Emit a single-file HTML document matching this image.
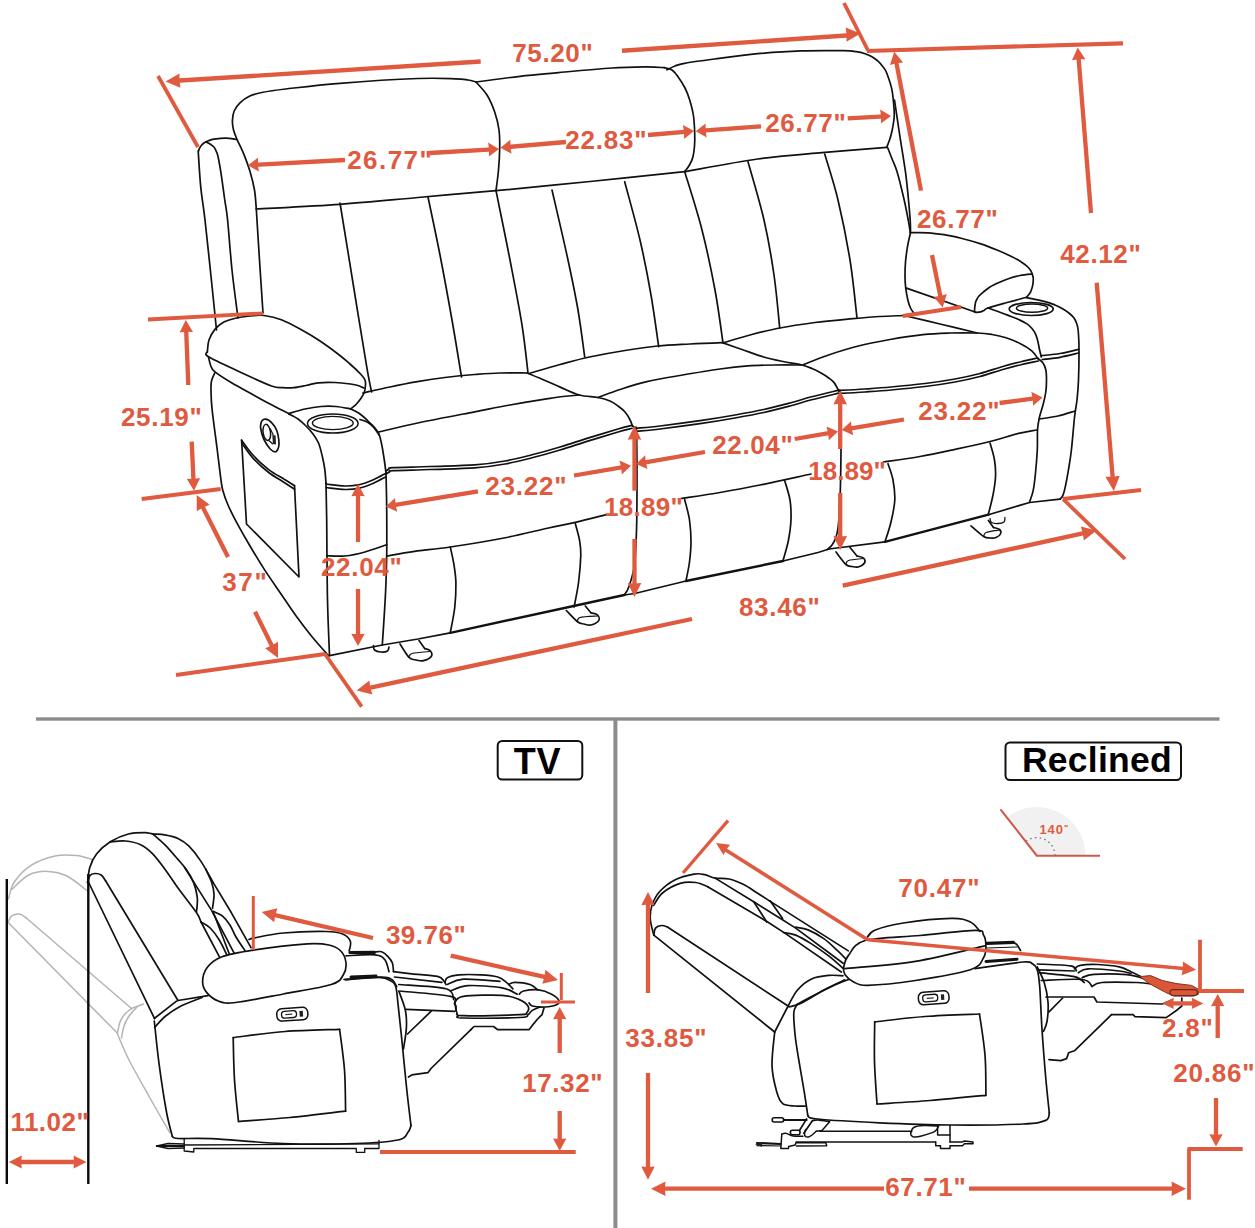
<!DOCTYPE html>
<html><head><meta charset="utf-8"><title>Sofa dimensions</title>
<style>
html,body{margin:0;padding:0;background:#fff;}
body{width:1255px;height:1228px;overflow:hidden;font-family:"Liberation Sans",sans-serif;}
svg{display:block;font-family:"Liberation Sans",sans-serif;}
</style></head><body>
<svg width="1255" height="1228" viewBox="0 0 1255 1228">
<rect width="1255" height="1228" fill="#fff"/>
<path d="M236.6,139.4 C234.8,139.2 229.7,138.2 225.9,138.2 C222.1,138.2 216.8,138.8 213.9,139.2 C211.0,139.6 210.1,140.2 208.5,140.8 C206.9,141.4 205.5,142.0 204.3,142.7 C203.1,143.4 202.3,144.3 201.5,145.2 C200.7,146.1 200.1,147.1 199.6,148.1 C199.1,149.1 198.8,150.0 198.6,151.0 C198.4,152.0 198.0,148.0 198.4,154.1 C198.8,160.2 199.7,176.6 200.8,187.6 C201.9,198.6 203.2,204.1 205.0,220.0 C206.8,235.9 209.8,264.7 211.7,283.0 C213.6,301.3 215.7,322.2 216.5,330.0" fill="none" stroke="#111" stroke-width="1.7" stroke-linecap="round" stroke-linejoin="round" />
<path d="M206.0,142.0 C206.7,142.3 208.7,143.2 210.0,144.0 C211.3,144.8 212.8,145.8 213.9,147.0 C215.0,148.2 215.6,149.9 216.3,151.5 C217.0,153.1 217.2,152.9 218.0,156.5 C218.8,160.1 219.9,166.0 221.0,173.2 C222.1,180.4 223.6,191.7 224.7,199.5 C225.8,207.3 226.4,208.2 227.6,220.0 C228.8,231.8 230.3,253.7 232.0,270.0 C233.7,286.3 237.0,310.0 238.0,318.0" fill="none" stroke="#111" stroke-width="1.7" stroke-linecap="round" stroke-linejoin="round" />
<path d="M256.3,209.0 C256.0,205.8 255.6,196.4 254.5,190.0 C253.4,183.6 251.6,176.8 249.8,170.8 C248.0,164.8 245.9,159.3 243.8,154.1 C241.7,148.9 238.9,143.8 237.2,139.8 C235.5,135.8 234.4,133.4 233.6,130.2 C232.8,127.0 232.3,123.8 232.4,120.6 C232.5,117.4 232.9,114.0 234.2,111.0 C235.5,108.0 237.6,105.2 240.2,102.7 C242.8,100.2 246.2,97.8 249.8,96.1 C253.4,94.4 255.7,93.7 261.7,92.5 C267.7,91.3 272.6,90.5 285.6,89.0 C298.7,87.5 317.9,85.0 340.0,83.3 C362.1,81.5 398.8,79.2 418.0,78.5 C437.2,77.8 446.7,78.5 455.0,78.8 C463.3,79.0 464.5,79.5 468.0,80.0 C471.5,80.5 474.7,81.7 476.0,82.0" fill="none" stroke="#111" stroke-width="1.7" stroke-linecap="round" stroke-linejoin="round" />
<path d="M476.0,82.0 C477.8,84.2 483.9,90.0 487.0,95.0 C490.1,100.0 492.7,106.2 494.7,112.0 C496.7,117.8 498.2,124.0 499.0,130.0 C499.8,136.0 499.8,141.3 499.7,148.0 C499.6,154.7 499.1,162.9 498.5,170.0 C497.9,177.1 496.4,187.2 496.0,190.7" fill="none" stroke="#111" stroke-width="1.7" stroke-linecap="round" stroke-linejoin="round" />
<path d="M256.3,209.0 C270.2,208.2 313.1,206.2 340.0,204.3 C366.9,202.4 392.0,199.8 418.0,197.5 C444.0,195.2 483.0,191.8 496.0,190.7" fill="none" stroke="#111" stroke-width="1.7" stroke-linecap="round" stroke-linejoin="round" />
<path d="M256.3,209.0 C256.8,217.5 258.4,242.7 259.5,260.0 C260.6,277.3 262.4,304.2 263.0,313.0" fill="none" stroke="#111" stroke-width="1.7" stroke-linecap="round" stroke-linejoin="round" />
<path d="M476.0,82.0 C483.3,81.0 506.2,77.9 520.0,76.3 C533.8,74.7 543.2,74.0 558.5,72.6 C573.8,71.2 597.1,69.0 612.0,68.0 C626.9,67.0 639.2,67.0 648.0,66.9 C656.8,66.9 661.9,67.6 664.7,67.7" fill="none" stroke="#111" stroke-width="1.7" stroke-linecap="round" stroke-linejoin="round" />
<path d="M664.7,67.7 C665.9,68.1 669.8,68.5 672.0,70.0 C674.2,71.5 675.8,73.7 678.0,76.7 C680.2,79.7 683.0,84.1 685.0,88.0 C687.0,91.9 688.3,95.3 689.7,100.0 C691.1,104.7 692.7,110.5 693.5,116.0 C694.3,121.5 694.5,128.0 694.7,133.0 C694.9,138.0 694.8,142.1 694.5,146.0 C694.2,149.9 693.8,153.5 693.0,156.7 C692.2,159.9 690.9,162.5 689.5,165.0 C688.1,167.5 685.5,170.6 684.7,171.7" fill="none" stroke="#111" stroke-width="1.7" stroke-linecap="round" stroke-linejoin="round" />
<path d="M496.0,190.7 C511.7,189.2 558.5,184.7 590.0,181.5 C621.5,178.3 668.9,173.3 684.7,171.7" fill="none" stroke="#111" stroke-width="1.7" stroke-linecap="round" stroke-linejoin="round" />
<path d="M667.0,69.8 C668.3,69.2 672.1,67.1 675.0,66.0 C677.9,64.9 677.8,64.5 684.4,63.3 C691.0,62.1 702.3,60.6 714.5,59.0 C726.7,57.4 743.2,55.1 757.6,53.7 C772.0,52.4 786.3,51.4 800.6,50.9 C814.9,50.4 834.4,50.6 843.6,50.7 C852.8,50.8 852.4,51.1 856.0,51.6 C859.6,52.1 862.4,52.8 865.1,53.7 C867.8,54.6 869.9,55.5 872.0,56.8 C874.1,58.0 876.2,59.6 878.0,61.2 C879.8,62.8 881.2,64.5 882.7,66.5 C884.2,68.5 885.2,69.0 886.7,73.0 C888.2,77.0 890.8,83.7 892.0,90.2 C893.2,96.7 893.9,106.5 894.2,111.8 C894.5,117.1 894.0,118.8 893.6,122.0 C893.2,125.2 892.6,128.1 892.0,131.0 C891.4,133.9 890.6,136.8 889.7,139.5 C888.8,142.2 887.2,146.0 886.7,147.3" fill="none" stroke="#111" stroke-width="1.7" stroke-linecap="round" stroke-linejoin="round" />
<path d="M684.7,171.7 C696.9,169.6 734.7,162.2 757.6,159.0 C780.5,155.8 800.5,154.5 822.0,152.6 C843.5,150.7 875.9,148.2 886.7,147.3" fill="none" stroke="#111" stroke-width="1.7" stroke-linecap="round" stroke-linejoin="round" />
<path d="M894.5,100.0 C895.4,105.7 897.8,122.4 899.6,134.4 C901.4,146.4 903.9,160.4 905.5,172.2 C907.1,184.0 908.2,197.0 909.0,205.3 C909.8,213.6 910.0,217.5 910.3,222.0 C910.5,226.5 910.5,230.8 910.5,232.5" fill="none" stroke="#111" stroke-width="1.7" stroke-linecap="round" stroke-linejoin="round" />
<path d="M887.7,147.7 C888.5,149.8 890.9,155.9 892.5,160.0 C894.1,164.1 895.2,165.4 897.2,172.2 C899.2,178.9 902.4,192.2 904.3,200.5 C906.2,208.8 907.6,216.7 908.6,222.0 C909.6,227.3 910.0,230.8 910.3,232.5" fill="none" stroke="#111" stroke-width="1.7" stroke-linecap="round" stroke-linejoin="round" />
<path d="M340.0,203.0 C342.2,216.3 348.6,255.7 353.0,283.0 C357.4,310.3 363.6,348.5 366.7,366.7 C369.8,384.9 370.8,387.8 371.6,392.0" fill="none" stroke="#111" stroke-width="1.7" stroke-linecap="round" stroke-linejoin="round" />
<path d="M428.0,197.0 C430.0,206.7 436.0,234.5 440.0,255.0 C444.0,275.5 448.4,299.7 452.0,320.0 C455.6,340.3 459.9,367.5 461.5,377.0" fill="none" stroke="#111" stroke-width="1.7" stroke-linecap="round" stroke-linejoin="round" />
<path d="M496.0,190.7 C498.3,202.2 505.7,237.6 510.0,260.0 C514.3,282.4 519.0,306.2 522.0,325.0 C525.0,343.8 527.0,365.0 528.0,373.0" fill="none" stroke="#111" stroke-width="1.7" stroke-linecap="round" stroke-linejoin="round" />
<path d="M552.0,190.0 C554.7,201.7 563.7,240.0 568.0,260.0 C572.3,280.0 575.2,293.8 578.0,310.0 C580.8,326.2 583.6,349.2 584.7,357.0" fill="none" stroke="#111" stroke-width="1.7" stroke-linecap="round" stroke-linejoin="round" />
<path d="M624.7,181.7 C627.2,191.4 635.6,221.1 640.0,240.0 C644.4,258.9 647.9,277.2 651.0,295.0 C654.1,312.8 657.4,338.1 658.7,346.7" fill="none" stroke="#111" stroke-width="1.7" stroke-linecap="round" stroke-linejoin="round" />
<path d="M684.7,171.7 C687.6,181.4 697.0,210.3 702.0,230.0 C707.0,249.7 711.5,271.2 715.0,290.0 C718.5,308.8 721.7,334.2 723.0,343.0" fill="none" stroke="#111" stroke-width="1.7" stroke-linecap="round" stroke-linejoin="round" />
<path d="M748.0,161.7 C750.7,171.4 759.7,201.1 764.0,220.0 C768.3,238.9 771.4,257.0 774.0,275.0 C776.6,293.0 778.8,319.2 779.7,328.0" fill="none" stroke="#111" stroke-width="1.7" stroke-linecap="round" stroke-linejoin="round" />
<path d="M824.7,154.0 C826.9,161.7 833.8,182.3 838.0,200.0 C842.2,217.7 846.8,240.3 850.0,260.0 C853.2,279.7 855.8,308.3 857.0,318.0" fill="none" stroke="#111" stroke-width="1.7" stroke-linecap="round" stroke-linejoin="round" />
<path d="M207.3,352.0 C207.6,350.0 207.8,343.7 209.0,340.0 C210.2,336.3 212.4,332.5 214.7,329.6 C217.0,326.7 219.7,324.4 223.0,322.5 C226.3,320.6 230.0,319.6 234.5,318.5 C239.0,317.4 245.1,316.5 250.0,316.0 C254.9,315.5 258.7,314.8 264.0,315.5 C269.3,316.2 275.8,317.6 282.0,320.0 C288.2,322.4 294.7,326.1 301.0,329.6 C307.3,333.1 313.8,336.9 320.0,341.0 C326.2,345.1 333.0,350.2 338.0,354.0 C343.0,357.8 346.2,360.7 350.0,364.0 C353.8,367.3 358.0,371.3 360.5,374.0 C363.0,376.7 364.2,377.9 365.0,380.0 C365.8,382.1 365.6,384.3 365.4,386.5 C365.2,388.7 364.8,390.9 364.0,393.0 C363.2,395.1 361.8,397.1 360.5,399.0 C359.2,400.9 357.6,402.8 356.0,404.5 C354.4,406.2 351.5,408.2 350.6,409.0" fill="none" stroke="#111" stroke-width="1.7" stroke-linecap="round" stroke-linejoin="round" />
<path d="M207.3,352.0 C207.5,352.8 203.1,353.5 208.5,356.8 C213.9,360.1 229.5,367.1 240.0,372.0 C250.5,376.9 264.3,383.4 271.5,386.0 C278.7,388.6 279.3,387.4 283.0,387.7 C286.7,388.0 290.0,388.1 293.8,387.7 C297.6,387.3 301.9,386.3 306.0,385.5 C310.1,384.7 313.7,383.3 318.5,382.8 C323.3,382.3 329.6,382.3 335.0,382.5 C340.4,382.7 346.8,383.5 350.6,384.0 C354.4,384.5 355.8,384.8 358.0,385.5 C360.2,386.2 363.0,387.6 364.0,388.0" fill="none" stroke="#111" stroke-width="1.7" stroke-linecap="round" stroke-linejoin="round" />
<path d="M208.5,356.8 C208.8,358.2 209.5,362.5 210.5,365.0 C211.5,367.5 211.1,368.6 214.7,371.6 C218.3,374.6 225.8,379.3 232.0,383.0 C238.2,386.7 245.5,390.5 251.8,394.0 C258.1,397.5 263.8,400.7 270.0,404.0 C276.2,407.3 285.7,412.0 288.8,413.6" fill="none" stroke="#111" stroke-width="1.7" stroke-linecap="round" stroke-linejoin="round" />
<path d="M288.8,413.6 C291.5,412.8 299.6,410.2 305.0,409.0 C310.4,407.8 315.8,406.9 321.0,406.5 C326.2,406.1 331.1,406.1 336.0,406.5 C340.9,406.9 348.2,408.5 350.6,408.9" fill="none" stroke="#111" stroke-width="1.7" stroke-linecap="round" stroke-linejoin="round" />
<path d="M350.6,409.0 C352.2,409.8 357.1,412.0 360.0,414.0 C362.9,416.0 365.7,418.8 368.0,421.0 C370.3,423.2 372.2,424.8 374.0,427.0 C375.8,429.2 377.7,430.8 379.0,434.0 C380.3,437.2 381.2,442.0 382.0,446.0 C382.8,450.0 383.3,453.5 384.0,458.0 C384.7,462.5 385.7,470.5 386.0,473.0" fill="none" stroke="#111" stroke-width="1.7" stroke-linecap="round" stroke-linejoin="round" />
<path d="M288.8,414.0 C290.3,414.8 295.1,417.0 298.0,419.0 C300.9,421.0 303.5,423.5 306.0,426.0 C308.5,428.5 310.9,431.2 313.0,434.0 C315.1,436.8 317.0,439.5 318.5,443.0 C320.0,446.5 321.0,450.8 322.0,455.0 C323.0,459.2 323.9,463.3 324.6,468.0 C325.3,472.7 325.8,480.5 326.0,483.0" fill="none" stroke="#111" stroke-width="1.7" stroke-linecap="round" stroke-linejoin="round" />
<ellipse cx="332.8" cy="423.5" rx="25.3" ry="9.6" fill="none" stroke="#111" stroke-width="1.5"/>
<ellipse cx="332.8" cy="423" rx="20.4" ry="6.6" fill="none" stroke="#111" stroke-width="1.4"/>
<path d="M214.7,373.0 C214.2,374.3 212.1,378.2 211.5,381.0 C210.9,383.8 210.9,385.4 211.0,390.0 C211.1,394.6 211.0,399.0 212.0,408.7 C213.0,418.4 215.5,436.1 217.0,448.0 C218.5,459.9 220.0,472.9 221.0,480.0 C222.0,487.1 221.7,486.5 222.9,490.7 C224.1,494.9 225.6,499.5 228.0,505.0 C230.4,510.5 233.7,517.1 237.4,523.9 C241.1,530.7 245.5,538.4 250.0,546.0 C254.5,553.6 259.3,561.6 264.3,569.4 C269.3,577.1 274.8,584.9 280.0,592.5 C285.2,600.1 290.2,607.8 295.4,615.0 C300.6,622.2 305.5,628.7 311.0,635.5 C316.5,642.3 325.6,652.3 328.5,655.7" fill="none" stroke="#111" stroke-width="1.7" stroke-linecap="round" stroke-linejoin="round" />
<path d="M326.0,483.0 C326.1,489.2 326.4,500.5 326.7,520.0 C326.9,539.5 327.0,577.4 327.5,600.0 C328.0,622.6 329.2,646.4 329.5,655.7" fill="none" stroke="#111" stroke-width="1.7" stroke-linecap="round" stroke-linejoin="round" />
<path d="M386.0,473.0 C386.1,479.0 386.6,495.2 386.7,509.0 C386.8,522.8 386.9,542.2 386.7,556.0 C386.5,569.8 386.3,576.8 385.6,591.6 C384.9,606.4 382.9,636.1 382.3,645.0" fill="none" stroke="#111" stroke-width="1.7" stroke-linecap="round" stroke-linejoin="round" />
<path d="M326.0,484.0 C329.2,484.3 339.3,485.9 345.0,486.0 C350.7,486.1 355.2,485.6 360.0,484.5 C364.8,483.4 369.8,481.3 374.0,479.5 C378.2,477.7 383.6,474.5 385.5,473.5" fill="none" stroke="#111" stroke-width="1.7" stroke-linecap="round" stroke-linejoin="round" />
<path d="M326.0,487.5 C329.2,487.8 339.3,489.4 345.0,489.5 C350.7,489.6 355.2,489.1 360.0,488.0 C364.8,486.9 369.8,484.8 374.0,483.0 C378.2,481.2 383.6,478.0 385.5,477.0" fill="none" stroke="#111" stroke-width="1.7" stroke-linecap="round" stroke-linejoin="round" />
<path d="M326.7,555.7 C329.8,555.8 338.6,556.6 345.0,556.0 C351.4,555.4 358.1,553.9 365.0,552.0 C371.9,550.1 383.1,545.9 386.7,544.7" fill="none" stroke="#111" stroke-width="1.7" stroke-linecap="round" stroke-linejoin="round" />
<path d="M329.5,655.7 L382.3,645.0" fill="none" stroke="#111" stroke-width="1.7" stroke-linecap="round" stroke-linejoin="round"/>
<path d="M241.6,440.2 C243.5,442.7 248.7,450.4 253.2,455.3 C257.7,460.2 263.5,465.6 268.7,469.6 C273.9,473.6 279.9,476.6 284.2,479.3 C288.5,482.0 292.8,484.6 294.5,485.7" fill="none" stroke="#111" stroke-width="1.7" stroke-linecap="round" stroke-linejoin="round" />
<path d="M294.5,485.7 L299.0,577.0 L246.5,524.0 L241.6,440.2" fill="none" stroke="#111" stroke-width="1.7" stroke-linecap="round" stroke-linejoin="round"/>
<path d="M241.8,443.2 C243.7,445.7 248.7,453.5 253.2,458.4 C257.7,463.3 263.5,468.5 268.7,472.5 C273.9,476.5 279.9,479.7 284.2,482.5 C288.5,485.3 292.9,488.1 294.6,489.2" fill="none" stroke="#111" stroke-width="1.7" stroke-linecap="round" stroke-linejoin="round" />
<path d="M264,419.3 C260.5,420.5 260,426 261,430 C262,436 265,443 270.2,449 C272.5,451.3 275,452.2 276.4,451.4 C278.6,449 279.3,444 278.8,439.8 C278.3,434 276,427 271.8,422.8 C269.5,420.3 266.5,418.6 264,419.3 Z" fill="none" stroke="#111" stroke-width="1.7"/>
<ellipse cx="266.8" cy="432.4" rx="3.7" ry="8.1" transform="rotate(-8 266.8 432.4)" fill="none" stroke="#111" stroke-width="1.5"/>
<path d="M272.3,435 L275.6,435.6 L276,444.6 L272.9,444 Z" fill="#222"/>
<path d="M270.3,428.8 L273.2,434.8" fill="none" stroke="#111" stroke-width="1.2" stroke-linecap="round" stroke-linejoin="round"/>
<path d="M268.6,440.3 L272.5,443.8" fill="none" stroke="#111" stroke-width="1.2" stroke-linecap="round" stroke-linejoin="round"/>
<path d="M373.5,645.5 C373.7,646.2 373.2,648.9 374.5,650.0 C375.8,651.1 378.8,651.8 381.0,652.0 C383.2,652.2 386.2,651.8 387.5,651.0 C388.8,650.2 388.8,647.7 389.0,647.0" fill="none" stroke="#111" stroke-width="1.7" stroke-linecap="round" stroke-linejoin="round" />
<path d="M400.0,644.0 C401.5,646.2 406.3,654.7 409.0,657.4 C411.7,660.1 413.6,659.5 416.0,660.0 C418.4,660.5 420.9,661.3 423.5,660.7 C426.1,660.1 430.3,658.0 431.4,656.3 C432.5,654.6 431.3,652.0 430.2,650.7 C429.1,649.4 425.6,648.9 424.7,648.5" fill="none" stroke="#111" stroke-width="1.7" stroke-linecap="round" stroke-linejoin="round" />
<path d="M424.7,648.5 L419.0,640.6" fill="none" stroke="#111" stroke-width="1.7" stroke-linecap="round" stroke-linejoin="round"/>
<path d="M409.0,657.4 C409.5,656.8 408.5,654.5 412.0,653.5 C415.5,652.5 427.0,651.8 430.0,651.5" fill="none" stroke="#111" stroke-width="1.2" stroke-linecap="round" stroke-linejoin="round" />
<path d="M362.9,393.0 C367.4,392.0 380.9,388.9 390.0,387.0 C399.1,385.1 408.2,383.3 417.4,381.7 C426.6,380.1 435.4,378.7 445.0,377.5 C454.6,376.3 465.5,375.2 474.7,374.5 C483.9,373.8 491.3,373.2 500.0,373.0 C508.7,372.8 522.5,373.0 527.0,373.0" fill="none" stroke="#111" stroke-width="1.7" stroke-linecap="round" stroke-linejoin="round" />
<path d="M527.0,373.0 C530.0,374.2 539.4,378.1 545.0,380.5 C550.6,382.9 555.1,385.0 560.8,387.4 C566.5,389.8 573.2,393.3 579.4,395.0 C585.6,396.7 592.9,396.5 598.0,397.5 C603.1,398.5 606.7,399.6 610.0,401.0 C613.3,402.4 615.5,404.2 618.0,406.0 C620.5,407.8 623.1,409.8 625.0,412.0 C626.9,414.2 628.4,416.7 629.6,419.0 C630.9,421.3 632.0,424.8 632.5,426.0" fill="none" stroke="#111" stroke-width="1.7" stroke-linecap="round" stroke-linejoin="round" />
<path d="M378.6,432.0 C385.5,430.4 404.0,425.9 420.0,422.5 C436.0,419.1 459.7,414.7 474.7,411.8 C489.7,408.9 498.0,407.1 510.0,405.0 C522.0,402.9 537.7,400.3 546.5,398.9 C555.3,397.5 557.5,397.1 563.0,396.5 C568.5,395.9 576.7,395.2 579.4,395.0" fill="none" stroke="#111" stroke-width="1.7" stroke-linecap="round" stroke-linejoin="round" />
<path d="M360.0,419.5 C361.3,420.0 365.7,421.1 368.0,422.5 C370.3,423.9 372.2,425.5 374.0,427.6 C375.8,429.7 378.2,433.8 379.0,435.0" fill="none" stroke="#111" stroke-width="1.7" stroke-linecap="round" stroke-linejoin="round" />
<path d="M386.0,471.0 C386.5,470.7 387.8,469.6 389.0,469.0 C390.2,468.4 386.2,468.1 393.0,467.7 C399.8,467.3 416.4,467.0 430.0,466.5 C443.6,466.0 462.2,465.8 474.7,464.9 C487.2,464.0 495.4,462.7 505.0,461.0 C514.5,459.3 522.8,457.1 532.0,454.8 C541.2,452.5 550.4,449.9 560.0,447.0 C569.6,444.1 579.8,440.6 589.5,437.6 C599.2,434.6 610.9,431.1 618.0,429.0 C625.1,426.9 629.7,425.9 632.0,425.3" fill="none" stroke="#111" stroke-width="1.7" stroke-linecap="round" stroke-linejoin="round" />
<path d="M386.0,474.0 C386.6,473.7 388.3,472.6 389.5,472.0 C390.7,471.4 386.2,471.1 393.0,470.7 C399.8,470.3 416.4,470.0 430.0,469.5 C443.6,469.0 462.2,468.8 474.7,467.9 C487.2,467.0 495.4,465.7 505.0,464.0 C514.5,462.3 522.8,460.1 532.0,457.8 C541.2,455.5 550.4,452.9 560.0,450.0 C569.6,447.1 579.8,443.6 589.5,440.6 C599.2,437.6 610.9,434.1 618.0,432.0 C625.1,429.9 629.7,428.9 632.0,428.3" fill="none" stroke="#111" stroke-width="1.7" stroke-linecap="round" stroke-linejoin="round" />
<path d="M386.7,556.0 C391.4,555.2 404.0,552.9 414.6,551.4 C425.2,549.9 435.4,549.2 450.3,547.0 C465.2,544.8 487.5,541.2 503.9,538.0 C520.3,534.8 536.6,530.6 548.5,528.0 C560.4,525.4 565.6,524.6 575.3,522.4 C585.0,520.2 601.3,515.9 606.5,514.6" fill="none" stroke="#111" stroke-width="1.7" stroke-linecap="round" stroke-linejoin="round" />
<path d="M450.3,547.0 C450.9,550.0 453.1,559.0 454.0,565.0 C454.9,571.0 455.8,576.0 455.9,583.0 C456.0,590.0 455.7,598.8 454.8,607.0 C453.9,615.2 451.1,628.2 450.3,632.5" fill="none" stroke="#111" stroke-width="1.7" stroke-linecap="round" stroke-linejoin="round" />
<path d="M575.3,523.5 C576.0,526.2 578.6,534.8 579.5,540.0 C580.4,545.2 580.9,548.0 580.8,555.0 C580.6,562.0 579.7,573.3 578.6,582.0 C577.5,590.7 574.9,602.8 574.1,607.0" fill="none" stroke="#111" stroke-width="1.7" stroke-linecap="round" stroke-linejoin="round" />
<path d="M382.3,645.0 L418.0,639.0 L450.3,632.8" fill="none" stroke="#111" stroke-width="1.7" stroke-linecap="round" stroke-linejoin="round"/>
<path d="M450.3,632.8 L624.3,595.0" fill="none" stroke="#111" stroke-width="2.4" stroke-linecap="round" stroke-linejoin="round"/>
<path d="M632.5,426.0 C632.9,426.3 634.3,427.0 635.0,428.0 C635.7,429.0 636.2,423.3 636.5,432.0 C636.8,440.7 637.0,464.2 637.0,480.0 C637.0,495.8 637.0,512.8 636.6,527.0 C636.2,541.2 635.7,555.0 634.4,565.0 C633.1,575.0 630.5,582.0 628.8,587.0 C627.1,592.0 625.0,593.7 624.3,595.0" fill="none" stroke="#111" stroke-width="1.7" stroke-linecap="round" stroke-linejoin="round" />
<path d="M566.3,610.5 C568.2,612.4 574.5,619.5 577.5,621.7 C580.5,624.0 581.8,623.5 584.0,624.0 C586.2,624.5 588.4,625.6 590.9,625.0 C593.4,624.4 597.6,622.3 598.7,620.6 C599.8,618.9 598.9,616.3 597.6,615.0 C596.3,613.7 592.0,613.2 590.9,612.8" fill="none" stroke="#111" stroke-width="1.7" stroke-linecap="round" stroke-linejoin="round" />
<path d="M590.9,612.8 L585.3,606.0" fill="none" stroke="#111" stroke-width="1.7" stroke-linecap="round" stroke-linejoin="round"/>
<path d="M577.5,621.7 C577.9,621.0 576.7,618.5 580.0,617.5 C583.3,616.5 594.6,616.2 597.5,616.0" fill="none" stroke="#111" stroke-width="1.2" stroke-linecap="round" stroke-linejoin="round" />
<path d="M529.0,373.5 C534.2,372.0 549.9,367.2 560.0,364.5 C570.1,361.8 578.7,359.3 589.5,357.0 C600.3,354.7 613.6,352.3 625.0,350.5 C636.4,348.7 647.2,347.1 658.0,346.0 C668.8,344.9 679.3,344.6 690.0,344.0 C700.7,343.4 716.9,342.8 722.3,342.6" fill="none" stroke="#111" stroke-width="1.7" stroke-linecap="round" stroke-linejoin="round" />
<path d="M722.3,342.6 C725.6,343.8 735.1,347.1 742.0,349.5 C748.9,351.9 756.9,355.0 763.7,357.0 C770.5,359.0 776.6,360.2 783.0,361.5 C789.4,362.8 797.2,363.8 802.0,365.0 C806.8,366.2 808.8,367.2 812.0,368.5 C815.2,369.8 818.3,371.5 821.0,373.0 C823.7,374.5 825.9,375.9 828.0,377.5 C830.1,379.1 832.1,380.2 833.9,382.4 C835.7,384.5 837.8,389.1 838.6,390.4" fill="none" stroke="#111" stroke-width="1.7" stroke-linecap="round" stroke-linejoin="round" />
<path d="M598.0,397.5 C601.7,396.2 611.9,392.1 620.0,389.5 C628.1,386.9 636.8,384.0 646.8,381.7 C656.8,379.4 667.8,377.6 680.0,375.5 C692.2,373.4 708.7,370.6 720.0,369.0 C731.3,367.4 738.6,366.6 747.8,365.9 C757.0,365.2 766.0,365.1 775.0,365.0 C784.0,364.9 797.5,365.0 802.0,365.0" fill="none" stroke="#111" stroke-width="1.7" stroke-linecap="round" stroke-linejoin="round" />
<path d="M636.0,428.3 C640.0,427.9 649.3,427.3 660.0,426.0 C670.7,424.7 687.5,422.5 700.0,420.7 C712.5,418.9 724.4,416.9 735.0,415.0 C745.6,413.1 754.5,411.5 763.7,409.5 C772.9,407.5 782.0,405.1 790.0,403.0 C798.0,400.9 803.5,398.9 811.6,396.8 C819.7,394.7 834.1,391.3 838.6,390.2" fill="none" stroke="#111" stroke-width="1.7" stroke-linecap="round" stroke-linejoin="round" />
<path d="M636.5,431.3 C640.4,430.9 649.4,430.3 660.0,429.0 C670.6,427.7 687.5,425.5 700.0,423.7 C712.5,421.9 724.4,419.9 735.0,418.0 C745.6,416.1 754.5,414.5 763.7,412.5 C772.9,410.5 782.0,408.1 790.0,406.0 C798.0,403.9 803.5,401.9 811.6,399.8 C819.7,397.7 834.1,394.3 838.6,393.2" fill="none" stroke="#111" stroke-width="1.7" stroke-linecap="round" stroke-linejoin="round" />
<path d="M681.0,498.5 C687.5,497.5 706.8,494.8 720.0,492.5 C733.2,490.2 744.8,488.1 760.0,485.0 C775.2,481.9 802.5,475.8 811.0,474.0" fill="none" stroke="#111" stroke-width="1.7" stroke-linecap="round" stroke-linejoin="round" />
<path d="M684.7,499.7 C685.5,503.1 688.5,513.0 689.5,520.0 C690.5,527.0 691.0,535.0 691.0,542.0 C691.0,549.0 690.3,555.5 689.5,562.0 C688.7,568.5 686.6,577.6 686.0,580.7" fill="none" stroke="#111" stroke-width="1.7" stroke-linecap="round" stroke-linejoin="round" />
<path d="M784.7,480.7 C785.6,483.9 789.0,493.6 790.0,500.0 C791.0,506.4 791.2,512.3 791.0,519.0 C790.8,525.7 789.8,533.0 788.5,540.0 C787.2,547.0 783.9,557.2 783.0,560.7" fill="none" stroke="#111" stroke-width="1.7" stroke-linecap="round" stroke-linejoin="round" />
<path d="M624.3,595.0 L634.7,593.5 L686.0,581.0" fill="none" stroke="#111" stroke-width="1.7" stroke-linecap="round" stroke-linejoin="round"/>
<path d="M686.0,581.0 L783.0,561.0" fill="none" stroke="#111" stroke-width="2.4" stroke-linecap="round" stroke-linejoin="round"/>
<path d="M783.0,561.0 L818.0,552.5 L829.0,549.0" fill="none" stroke="#111" stroke-width="1.7" stroke-linecap="round" stroke-linejoin="round"/>
<path d="M838.6,391.0 C838.9,391.8 840.1,386.3 840.5,396.0 C840.9,405.7 841.1,431.7 841.0,449.0 C840.9,466.3 840.5,486.8 840.0,500.0 C839.5,513.2 838.8,521.6 838.0,528.0 C837.2,534.4 836.5,535.8 835.5,538.6 C834.5,541.4 833.3,543.2 832.0,545.0 C830.7,546.8 828.2,548.8 827.5,549.5" fill="none" stroke="#111" stroke-width="1.7" stroke-linecap="round" stroke-linejoin="round" />
<path d="M724.0,342.6 C728.3,341.3 740.7,337.4 750.0,335.0 C759.3,332.6 768.9,330.1 779.7,328.0 C790.5,325.9 802.8,324.1 815.0,322.5 C827.2,320.9 842.2,319.7 853.0,318.7 C863.8,317.7 871.5,317.0 880.0,316.5 C888.5,316.0 900.0,315.7 904.0,315.5" fill="none" stroke="#111" stroke-width="1.7" stroke-linecap="round" stroke-linejoin="round" />
<path d="M904.0,315.5 C910.0,316.9 927.8,321.1 940.0,324.0 C952.2,326.9 971.1,331.5 977.3,333.0" fill="none" stroke="#111" stroke-width="1.7" stroke-linecap="round" stroke-linejoin="round" />
<path d="M803.6,364.5 C808.0,362.8 820.7,357.6 830.0,354.5 C839.3,351.4 849.4,348.3 859.4,345.8 C869.4,343.3 879.4,341.4 890.0,339.5 C900.6,337.6 913.0,335.7 923.0,334.6 C933.0,333.5 941.0,333.3 950.0,333.0 C959.0,332.7 970.3,332.8 977.3,333.0 C984.3,333.2 987.2,333.7 992.0,334.5 C996.8,335.3 1001.3,336.3 1006.0,337.8 C1010.7,339.3 1015.8,341.4 1020.0,343.5 C1024.2,345.6 1028.5,348.1 1031.5,350.6 C1034.5,353.1 1036.8,357.2 1037.8,358.5" fill="none" stroke="#111" stroke-width="1.7" stroke-linecap="round" stroke-linejoin="round" />
<path d="M840.0,390.4 C844.2,390.2 856.5,389.6 865.0,389.0 C873.5,388.4 881.0,387.9 891.0,387.0 C901.0,386.1 914.3,384.8 925.0,383.5 C935.7,382.2 945.8,380.7 955.0,379.0 C964.2,377.3 972.0,375.6 980.0,373.5 C988.0,371.4 995.8,368.5 1002.8,366.5 C1009.8,364.5 1016.2,362.9 1022.0,361.5 C1027.8,360.1 1035.2,358.6 1037.8,358.0" fill="none" stroke="#111" stroke-width="1.7" stroke-linecap="round" stroke-linejoin="round" />
<path d="M840.5,393.4 C844.6,393.2 856.6,392.6 865.0,392.0 C873.4,391.4 881.0,390.9 891.0,390.0 C901.0,389.1 914.3,387.8 925.0,386.5 C935.7,385.2 945.8,383.7 955.0,382.0 C964.2,380.3 972.0,378.6 980.0,376.5 C988.0,374.4 995.8,371.5 1002.8,369.5 C1009.8,367.5 1016.0,365.9 1022.0,364.5 C1028.0,363.1 1035.8,361.6 1038.5,361.0" fill="none" stroke="#111" stroke-width="1.7" stroke-linecap="round" stroke-linejoin="round" />
<path d="M1037.8,358.5 C1038.7,359.2 1041.7,361.1 1043.0,363.0 C1044.3,364.9 1045.2,366.9 1045.8,369.7 C1046.4,372.5 1046.5,376.3 1046.5,380.0 C1046.5,383.7 1046.4,387.8 1045.8,392.0 C1045.2,396.2 1044.1,400.8 1043.0,405.0 C1041.9,409.2 1040.3,413.3 1039.4,417.5 C1038.5,421.7 1037.8,424.6 1037.5,430.0 C1037.2,435.4 1037.7,442.5 1037.3,450.0 C1036.9,457.5 1036.0,468.1 1035.3,475.0 C1034.6,481.9 1034.0,486.9 1033.0,491.4 C1032.0,495.9 1030.1,500.2 1029.5,502.0" fill="none" stroke="#111" stroke-width="1.7" stroke-linecap="round" stroke-linejoin="round" />
<path d="M883.3,462.0 C889.4,461.1 908.0,458.6 920.0,456.5 C932.0,454.4 943.3,451.9 955.0,449.4 C966.7,446.9 979.4,444.2 990.0,441.5 C1000.6,438.8 1011.0,435.3 1018.7,433.4 C1026.5,431.5 1033.5,430.6 1036.5,430.0" fill="none" stroke="#111" stroke-width="1.7" stroke-linecap="round" stroke-linejoin="round" />
<path d="M888.0,463.7 C888.8,466.4 891.9,473.9 893.0,480.0 C894.1,486.1 895.1,493.0 894.8,500.0 C894.5,507.0 892.6,515.0 891.0,522.0 C889.4,529.0 886.0,538.5 885.0,541.8" fill="none" stroke="#111" stroke-width="1.7" stroke-linecap="round" stroke-linejoin="round" />
<path d="M990.0,443.0 C990.8,445.8 993.6,454.3 994.5,460.0 C995.4,465.7 995.8,471.2 995.5,477.0 C995.2,482.8 994.2,488.8 993.0,495.0 C991.8,501.2 989.2,510.8 988.4,514.0" fill="none" stroke="#111" stroke-width="1.7" stroke-linecap="round" stroke-linejoin="round" />
<path d="M829.0,549.0 L884.9,541.8" fill="none" stroke="#111" stroke-width="1.7" stroke-linecap="round" stroke-linejoin="round"/>
<path d="M884.9,541.8 L988.4,514.7" fill="none" stroke="#111" stroke-width="2.4" stroke-linecap="round" stroke-linejoin="round"/>
<path d="M988.4,514.7 L1029.5,502.5" fill="none" stroke="#111" stroke-width="1.7" stroke-linecap="round" stroke-linejoin="round"/>
<path d="M836.0,552.0 C837.7,554.1 843.3,562.1 846.0,564.5 C848.7,566.9 850.0,566.1 852.0,566.5 C854.0,566.9 855.9,567.6 858.0,567.0 C860.1,566.4 863.6,564.5 864.5,563.0 C865.4,561.5 864.8,559.2 863.5,558.0 C862.2,556.8 858.1,556.3 857.0,556.0" fill="none" stroke="#111" stroke-width="1.7" stroke-linecap="round" stroke-linejoin="round" />
<path d="M857.0,556.0 L850.0,547.5" fill="none" stroke="#111" stroke-width="1.7" stroke-linecap="round" stroke-linejoin="round"/>
<path d="M846.0,564.5 C846.4,563.8 845.6,561.5 848.5,560.5 C851.4,559.5 861.0,558.8 863.5,558.5" fill="none" stroke="#111" stroke-width="1.2" stroke-linecap="round" stroke-linejoin="round" />
<path d="M971.0,525.9 C973.1,527.7 980.5,534.5 983.7,536.5 C986.9,538.5 988.0,537.8 990.0,538.0 C992.0,538.2 994.2,538.2 996.0,537.5 C997.8,536.8 999.9,535.3 1000.5,534.0 C1001.1,532.7 1000.8,530.6 999.6,529.5 C998.4,528.4 994.5,527.8 993.5,527.5" fill="none" stroke="#111" stroke-width="1.7" stroke-linecap="round" stroke-linejoin="round" />
<path d="M993.5,527.5 L988.4,520.5" fill="none" stroke="#111" stroke-width="1.7" stroke-linecap="round" stroke-linejoin="round"/>
<path d="M983.7,536.5 C984.1,535.8 983.4,533.6 986.0,532.5 C988.6,531.4 997.2,530.4 999.5,530.0" fill="none" stroke="#111" stroke-width="1.2" stroke-linecap="round" stroke-linejoin="round" />
<path d="M990.0,518.5 C990.2,519.2 990.2,521.7 991.5,522.5 C992.8,523.3 995.9,523.6 998.0,523.5 C1000.1,523.4 1002.8,523.0 1004.0,522.0 C1005.2,521.0 1004.8,518.2 1005.0,517.5" fill="none" stroke="#111" stroke-width="1.3" stroke-linecap="round" stroke-linejoin="round" />
<path d="M910.5,232.7 C913.4,232.7 922.4,232.5 928.0,232.8 C933.6,233.1 938.3,233.8 944.0,234.7 C949.7,235.6 955.9,237.0 962.0,238.5 C968.1,240.0 975.0,242.0 980.8,243.9 C986.6,245.8 991.8,247.9 997.0,250.0 C1002.2,252.1 1008.1,254.8 1012.0,256.7 C1015.9,258.6 1018.1,260.0 1020.5,261.5 C1022.9,263.0 1025.0,264.6 1026.6,265.9 C1028.2,267.2 1029.1,268.3 1030.0,269.5 C1030.9,270.7 1031.5,271.8 1032.0,273.2 C1032.5,274.6 1033.0,276.3 1033.2,278.0 C1033.4,279.7 1033.2,281.6 1033.0,283.3 C1032.8,285.0 1032.5,286.5 1032.0,288.0 C1031.5,289.5 1031.2,290.9 1030.3,292.5 C1029.4,294.1 1027.2,296.5 1026.6,297.3" fill="none" stroke="#111" stroke-width="1.7" stroke-linecap="round" stroke-linejoin="round" />
<path d="M1032.0,274.0 C1030.0,274.2 1024.0,274.7 1020.0,275.5 C1016.0,276.3 1011.8,277.5 1008.3,278.7 C1004.8,279.9 1002.0,281.1 999.0,282.5 C996.0,283.9 992.5,285.5 990.0,287.0 C987.5,288.5 985.8,290.0 984.0,291.5 C982.2,293.0 980.2,294.6 979.0,296.0 C977.8,297.4 977.1,298.8 976.5,300.0 C975.9,301.2 975.6,301.6 975.3,303.5 C974.9,305.4 974.5,310.3 974.4,311.7" fill="none" stroke="#111" stroke-width="1.7" stroke-linecap="round" stroke-linejoin="round" />
<path d="M910.5,232.7 C910.0,235.0 908.3,241.7 907.5,246.6 C906.7,251.5 905.9,257.1 905.5,262.0 C905.1,266.9 905.0,271.7 905.0,276.0 C905.0,280.3 905.2,283.9 905.7,287.9 C906.2,291.8 907.0,296.3 907.8,299.7 C908.6,303.1 909.3,305.5 910.5,308.0 C911.7,310.5 914.1,313.4 914.8,314.5" fill="none" stroke="#111" stroke-width="1.7" stroke-linecap="round" stroke-linejoin="round" />
<path d="M905.7,287.9 L974.4,311.7" fill="none" stroke="#111" stroke-width="1.7" stroke-linecap="round" stroke-linejoin="round"/>
<path d="M1026.6,297.3 C1023.3,298.2 1013.4,300.7 1007.0,302.5 C1000.6,304.3 991.8,306.7 988.0,308.0 C984.2,309.3 985.2,309.9 984.0,310.5 C982.8,311.1 982.0,311.6 980.8,311.9 C979.6,312.2 978.1,312.3 977.0,312.3 C975.9,312.3 974.8,311.8 974.4,311.7" fill="none" stroke="#111" stroke-width="1.7" stroke-linecap="round" stroke-linejoin="round" />
<path d="M1026.6,297.6 C1029.7,298.3 1040.3,300.4 1045.0,301.6 C1049.7,302.8 1052.0,303.8 1055.0,305.0 C1058.0,306.2 1060.6,307.6 1063.0,309.0 C1065.4,310.4 1067.7,312.0 1069.5,313.5 C1071.3,315.0 1072.8,316.4 1074.0,318.0 C1075.2,319.6 1075.8,321.2 1076.5,323.0 C1077.2,324.8 1077.6,326.2 1078.0,329.0 C1078.4,331.8 1078.6,335.9 1078.8,340.0 C1079.0,344.1 1079.0,347.0 1079.0,353.7 C1079.0,360.4 1078.8,372.3 1078.5,380.0 C1078.2,387.7 1077.7,393.8 1077.0,400.0 C1076.3,406.2 1075.4,409.2 1074.5,417.5 C1073.6,425.8 1072.4,441.1 1071.4,450.0 C1070.4,458.9 1069.4,464.1 1068.3,470.7 C1067.2,477.3 1065.7,485.2 1064.7,489.4 C1063.8,493.6 1063.4,494.4 1062.6,496.0 C1061.8,497.6 1060.4,498.7 1060.0,499.2" fill="none" stroke="#111" stroke-width="1.7" stroke-linecap="round" stroke-linejoin="round" />
<path d="M988.0,308.0 C989.7,308.6 994.6,310.3 998.0,311.5 C1001.4,312.7 1005.0,314.1 1008.3,315.4 C1011.6,316.7 1015.0,317.9 1018.0,319.3 C1021.0,320.7 1024.3,322.1 1026.6,323.6 C1028.9,325.1 1030.5,326.7 1032.0,328.5 C1033.5,330.3 1034.8,332.4 1035.8,334.6 C1036.8,336.9 1037.4,339.6 1038.0,342.0 C1038.6,344.4 1038.9,346.8 1039.4,349.3 C1040.0,351.8 1041.0,355.7 1041.3,357.0" fill="none" stroke="#111" stroke-width="1.7" stroke-linecap="round" stroke-linejoin="round" />
<ellipse cx="1031.2" cy="309" rx="22" ry="6.5" fill="none" stroke="#111" stroke-width="1.7"/>
<ellipse cx="1032" cy="308.2" rx="15.6" ry="4.1" fill="none" stroke="#111" stroke-width="1.5"/>
<path d="M1041.3,355.7 C1044.4,355.3 1053.8,354.6 1060.0,353.5 C1066.2,352.4 1075.7,350.0 1078.8,349.3" fill="none" stroke="#111" stroke-width="1.7" stroke-linecap="round" stroke-linejoin="round" />
<path d="M1042.2,359.5 C1045.2,359.1 1053.9,358.4 1060.0,357.3 C1066.1,356.2 1075.7,353.7 1078.8,353.0" fill="none" stroke="#111" stroke-width="1.7" stroke-linecap="round" stroke-linejoin="round" />
<path d="M1039.5,419.0 C1042.6,418.5 1052.1,417.3 1058.0,416.0 C1063.9,414.7 1072.2,411.8 1075.0,411.0" fill="none" stroke="#111" stroke-width="1.7" stroke-linecap="round" stroke-linejoin="round" />
<path d="M1029.5,502.5 L1060.0,499.2" fill="none" stroke="#111" stroke-width="1.7" stroke-linecap="round" stroke-linejoin="round"/>
<path d="M8.4,899.0 C9.4,896.2 10.5,887.6 14.3,882.0 C18.1,876.4 24.2,869.7 31.0,865.4 C37.8,861.1 47.4,857.7 55.0,856.0 C62.6,854.3 70.3,854.8 76.5,855.4 C82.7,856.0 89.4,858.7 92.0,859.4" fill="none" stroke="#b4b4b4" stroke-width="1.5" stroke-linecap="round" stroke-linejoin="round" />
<path d="M12.0,889.3 C14.8,886.9 22.7,878.0 28.7,875.0 C34.7,872.0 41.4,871.2 47.8,871.4 C54.2,871.6 60.1,872.6 66.9,876.0 C73.7,879.4 84.8,889.1 88.4,891.7" fill="none" stroke="#b4b4b4" stroke-width="1.5" stroke-linecap="round" stroke-linejoin="round" />
<path d="M8.4,921.5 C9.0,920.5 10.0,916.8 12.0,915.6 C14.0,914.4 17.9,913.8 20.3,914.2 C22.7,914.6 25.3,917.4 26.3,918.0" fill="none" stroke="#b4b4b4" stroke-width="1.5" stroke-linecap="round" stroke-linejoin="round" />
<path d="M26.3,918.0 L131.5,1008.5" fill="none" stroke="#b4b4b4" stroke-width="1.5" stroke-linecap="round" stroke-linejoin="round"/>
<path d="M8.4,922.8 L117.0,1032.8" fill="none" stroke="#b4b4b4" stroke-width="1.5" stroke-linecap="round" stroke-linejoin="round"/>
<path d="M131.5,1008.5 L143.4,1004.0" fill="none" stroke="#b4b4b4" stroke-width="1.5" stroke-linecap="round" stroke-linejoin="round"/>
<path d="M117.5,1033.0 C117.9,1031.2 118.8,1025.1 120.0,1022.0 C121.2,1018.9 122.6,1016.8 124.5,1014.5 C126.4,1012.2 130.3,1009.5 131.5,1008.5" fill="none" stroke="#b4b4b4" stroke-width="1.5" stroke-linecap="round" stroke-linejoin="round" />
<path d="M121.5,1038.0 C121.9,1036.0 122.8,1029.7 124.0,1026.0 C125.2,1022.3 126.8,1019.2 129.0,1016.0 C131.2,1012.8 135.7,1008.5 137.0,1007.0" fill="none" stroke="#b4b4b4" stroke-width="1.5" stroke-linecap="round" stroke-linejoin="round" />
<path d="M117.0,1032.8 C119.0,1037.3 123.5,1049.1 129.0,1060.0 C134.5,1070.9 143.2,1085.8 150.0,1098.0 C156.8,1110.2 166.7,1127.2 170.0,1133.0" fill="none" stroke="#b4b4b4" stroke-width="1.5" stroke-linecap="round" stroke-linejoin="round" />
<path d="M87.6,882.6 C88.0,880.1 88.3,872.2 89.8,867.4 C91.3,862.6 93.3,858.1 96.7,853.8 C100.1,849.5 105.0,845.0 110.3,841.7 C115.6,838.4 122.6,835.5 128.4,834.0 C134.2,832.5 140.9,832.6 145.0,832.6 C149.1,832.6 149.4,833.4 152.7,833.8 C156.0,834.2 160.5,834.1 164.8,834.9 C169.1,835.7 174.4,836.8 178.4,838.7 C182.4,840.6 185.2,842.4 189.0,846.2 C192.8,850.0 197.0,855.3 201.0,861.4 C205.0,867.5 211.2,879.1 213.2,882.6" fill="none" stroke="#111" stroke-width="1.7" stroke-linecap="round" stroke-linejoin="round" />
<path d="M213.2,882.6 L231.4,912.8 L251.0,947.7" fill="none" stroke="#111" stroke-width="1.7" stroke-linecap="round" stroke-linejoin="round"/>
<path d="M88.4,882.0 L154.5,1018.5" fill="none" stroke="#111" stroke-width="1.7" stroke-linecap="round" stroke-linejoin="round"/>
<path d="M87.6,882.6 C88.0,881.5 88.6,877.2 89.8,875.7 C91.0,874.2 93.1,873.6 95.0,873.5 C96.9,873.4 99.4,873.8 101.2,875.0 C103.0,876.2 105.0,880.0 105.7,881.0" fill="none" stroke="#111" stroke-width="1.7" stroke-linecap="round" stroke-linejoin="round" />
<path d="M105.7,881.0 L178.0,1000.5" fill="none" stroke="#111" stroke-width="1.7" stroke-linecap="round" stroke-linejoin="round"/>
<path d="M110.3,842.0 C112.8,841.8 120.4,840.5 125.4,841.0 C130.5,841.5 136.1,842.6 140.6,844.7 C145.1,846.8 148.7,849.8 152.7,853.8 C156.7,857.8 160.5,863.2 164.8,869.0 C169.1,874.8 173.1,881.3 178.4,888.6 C183.7,895.9 192.8,907.2 196.6,912.8 C200.4,918.4 200.3,920.5 201.0,922.0" fill="none" stroke="#111" stroke-width="1.7" stroke-linecap="round" stroke-linejoin="round" />
<path d="M201.0,922.0 L219.3,956.7" fill="none" stroke="#111" stroke-width="1.7" stroke-linecap="round" stroke-linejoin="round"/>
<path d="M152.7,833.8 C154.7,835.6 160.8,840.6 164.8,844.7 C168.8,848.8 173.4,854.2 176.9,858.3 C180.4,862.3 183.2,865.0 186.0,869.0 C188.8,873.0 191.7,877.8 193.6,882.6 C195.5,887.4 196.8,892.9 197.3,897.7 C197.8,902.5 196.7,909.0 196.6,911.3" fill="none" stroke="#111" stroke-width="1.7" stroke-linecap="round" stroke-linejoin="round" />
<path d="M184.5,867.4 L211.7,910.6 L234.4,953.7" fill="none" stroke="#111" stroke-width="1.7" stroke-linecap="round" stroke-linejoin="round"/>
<path d="M205.7,869.0 C206.7,871.3 210.3,878.3 211.7,882.6 C213.1,886.9 213.9,890.4 214.0,894.7 C214.1,899.0 212.8,906.0 212.5,908.3" fill="none" stroke="#111" stroke-width="1.7" stroke-linecap="round" stroke-linejoin="round" />
<path d="M213.2,911.3 C214.7,912.1 219.5,913.6 222.3,915.9 C225.1,918.2 227.6,921.5 229.9,925.0 C232.2,928.5 233.5,932.7 236.0,937.0 C238.5,941.3 243.5,948.4 245.0,950.7" fill="none" stroke="#111" stroke-width="1.7" stroke-linecap="round" stroke-linejoin="round" />
<path d="M213.2,912.0 L229.5,954.5" fill="none" stroke="#111" stroke-width="1.7" stroke-linecap="round" stroke-linejoin="round"/>
<path d="M201.0,922.0 C202.5,923.0 207.1,925.0 210.2,928.0 C213.2,931.0 216.5,935.5 219.3,940.0 C222.1,944.5 225.6,952.5 226.9,955.0" fill="none" stroke="#111" stroke-width="1.7" stroke-linecap="round" stroke-linejoin="round" />
<path d="M178.0,1000.5 L208.0,995.7" fill="none" stroke="#111" stroke-width="1.7" stroke-linecap="round" stroke-linejoin="round"/>
<path d="M154.3,1018.5 L176.5,1001.2" fill="none" stroke="#111" stroke-width="1.7" stroke-linecap="round" stroke-linejoin="round"/>
<path d="M154.6,1027.5 C156.3,1025.7 160.9,1019.9 165.0,1016.5 C169.1,1013.1 173.0,1010.1 179.2,1006.9 C185.4,1003.7 198.2,999.1 202.0,997.5" fill="none" stroke="#111" stroke-width="1.7" stroke-linecap="round" stroke-linejoin="round" />
<path d="M154.3,1021.0 C155.1,1028.1 157.0,1048.4 159.0,1063.4 C161.0,1078.4 164.1,1098.8 166.3,1111.0 C168.5,1123.2 171.3,1132.1 172.3,1136.3" fill="none" stroke="#111" stroke-width="1.7" stroke-linecap="round" stroke-linejoin="round" />
<path d="M172.3,1136.3 C173.2,1136.7 171.4,1138.1 178.0,1138.5 C184.6,1138.9 194.1,1137.9 211.7,1138.7 C229.3,1139.5 259.5,1142.7 283.4,1143.5 C307.3,1144.3 335.9,1144.1 355.0,1143.5 C374.1,1142.9 389.2,1141.8 398.0,1140.0 C406.8,1138.2 405.5,1135.2 407.7,1132.8 C409.9,1130.4 410.4,1126.8 411.0,1125.6" fill="none" stroke="#111" stroke-width="1.7" stroke-linecap="round" stroke-linejoin="round" />
<path d="M345.6,979.8 C351.2,979.4 371.4,977.2 379.0,977.4 C386.6,977.6 388.2,979.4 391.0,981.0 C393.8,982.6 394.6,983.2 395.8,987.0 C397.0,990.8 397.0,995.0 398.0,1003.7 C399.0,1012.5 400.4,1025.6 401.8,1039.5 C403.2,1053.4 405.0,1072.7 406.5,1087.0 C408.0,1101.3 410.2,1119.2 411.0,1125.6" fill="none" stroke="#111" stroke-width="1.7" stroke-linecap="round" stroke-linejoin="round" />
<path d="M398.8,991.0 C399.9,994.2 404.0,1003.9 405.3,1010.0 C406.6,1016.1 406.7,1021.1 406.4,1027.6 C406.1,1034.1 404.0,1045.4 403.5,1049.0" fill="none" stroke="#111" stroke-width="1.7" stroke-linecap="round" stroke-linejoin="round" />
<path d="M202.6,982.0 C202.6,977.8 203.9,972.0 207.0,967.8 C210.1,963.6 213.4,960.0 221.3,957.0 C229.2,954.0 240.4,952.1 254.7,949.9 C269.0,947.7 294.9,944.7 307.3,943.9 C319.7,943.1 323.3,943.8 328.9,945.0 C334.5,946.2 337.9,948.0 340.8,951.0 C343.7,954.0 345.6,959.0 346.0,963.0 C346.4,967.0 345.6,971.4 343.2,975.0 C340.8,978.6 341.3,981.3 331.3,984.5 C321.3,987.7 299.3,991.0 283.4,994.0 C267.4,997.0 246.3,1001.3 235.6,1002.5 C224.8,1003.7 223.7,1002.9 218.9,1001.3 C214.1,999.7 209.7,996.1 207.0,992.9 C204.3,989.7 202.6,986.2 202.6,982.0Z" fill="#fff" stroke="#111" stroke-width="1.7" stroke-linecap="round" stroke-linejoin="round" />
<path d="M249.0,939.5 C249.9,939.2 249.0,939.0 254.7,937.9 C260.4,936.8 271.4,934.1 283.4,933.0 C295.4,931.9 316.5,931.3 326.5,931.5 C336.5,931.7 339.2,932.6 343.2,934.3 C347.2,936.0 349.4,938.7 350.4,941.5 C351.4,944.3 349.4,949.4 349.2,951.0" fill="none" stroke="#111" stroke-width="1.7" stroke-linecap="round" stroke-linejoin="round" />
<path d="M350.0,952.5 L374.5,952.3" fill="none" stroke="#111" stroke-width="3.2" stroke-linecap="round" stroke-linejoin="round"/>
<path d="M374.5,952.0 C375.7,952.0 379.4,951.0 381.6,951.8 C383.9,952.6 386.2,954.7 388.0,956.6 C389.8,958.5 391.5,960.5 392.4,963.0 C393.3,965.5 393.3,970.2 393.5,971.6" fill="none" stroke="#111" stroke-width="1.7" stroke-linecap="round" stroke-linejoin="round" />
<path d="M346.0,955.8 C350.8,955.6 368.5,954.1 375.0,954.8 C381.5,955.5 382.6,957.0 384.9,959.8 C387.2,962.6 388.3,969.6 389.0,971.6" fill="none" stroke="#111" stroke-width="1.7" stroke-linecap="round" stroke-linejoin="round" />
<path d="M351.0,977.0 L376.0,976.0" fill="none" stroke="#111" stroke-width="3" stroke-linecap="round" stroke-linejoin="round"/>
<path d="M344.0,979.5 C350.3,979.1 373.5,977.1 381.6,977.2 C389.7,977.3 389.9,978.4 392.4,980.0 C394.9,981.6 396.0,985.6 396.7,986.7" fill="none" stroke="#111" stroke-width="1.7" stroke-linecap="round" stroke-linejoin="round" />
<g transform="translate(292.3,1014.2) rotate(-4)"><rect x="-15.5" y="-6.2" width="31" height="12.4" rx="5" fill="#fff" stroke="#111" stroke-width="1.5"/><rect x="-10.8" y="-3.4" width="15" height="6.8" rx="3" fill="none" stroke="#111" stroke-width="1.3"/><rect x="-7" y="-0.6" width="7" height="1.2" fill="#333"/><rect x="7.3" y="-2.8" width="3.4" height="5.8" fill="#222"/></g>
<path d="M233.2,1037.6 C241.8,1036.6 267.3,1032.9 285.0,1031.5 C302.7,1030.1 330.5,1029.7 339.6,1029.3" fill="none" stroke="#111" stroke-width="1.7" stroke-linecap="round" stroke-linejoin="round" />
<path d="M339.6,1029.3 C340.4,1036.1 343.5,1056.3 344.5,1070.0 C345.5,1083.7 345.4,1104.3 345.6,1111.2" fill="none" stroke="#111" stroke-width="1.7" stroke-linecap="round" stroke-linejoin="round" />
<path d="M345.6,1111.2 C336.3,1112.2 307.9,1115.8 290.0,1117.5 C272.1,1119.2 247.1,1120.8 238.5,1121.5" fill="none" stroke="#111" stroke-width="1.7" stroke-linecap="round" stroke-linejoin="round" />
<path d="M238.5,1121.5 C237.8,1114.6 235.4,1094.0 234.5,1080.0 C233.6,1066.0 233.4,1044.7 233.2,1037.6" fill="none" stroke="#111" stroke-width="1.7" stroke-linecap="round" stroke-linejoin="round" />
<path d="M184.2,1138.5 L184.2,1151.0 L193.8,1152.0 L193.8,1148.5 L356.3,1148.5 L356.3,1152.4 L364.7,1152.4 L364.7,1148.5 L379.0,1148.5 L379.0,1140.5" fill="none" stroke="#111" stroke-width="1.3" stroke-linecap="round" stroke-linejoin="round"/>
<path d="M184.2,1145.0 L379.0,1143.8" fill="none" stroke="#111" stroke-width="1.3" stroke-linecap="round" stroke-linejoin="round"/>
<path d="M156.7,1146.0 L168.0,1143.5 L184.2,1144.0" fill="none" stroke="#111" stroke-width="1.3" stroke-linecap="round" stroke-linejoin="round"/>
<path d="M156.7,1146.0 L168.0,1148.5 L184.2,1148.0" fill="none" stroke="#111" stroke-width="1.3" stroke-linecap="round" stroke-linejoin="round"/>
<path d="M156.7,1146.0 L184.0,1146.0" fill="none" stroke="#111" stroke-width="1.8" stroke-linecap="round" stroke-linejoin="round"/>
<path d="M393.5,971.6 C396.6,972.0 404.4,973.0 411.8,973.8 C419.2,974.6 432.2,975.1 437.6,976.4 C443.0,977.6 442.6,979.9 444.0,981.3 C445.4,982.6 445.7,984.0 446.0,984.5" fill="none" stroke="#111" stroke-width="1.7" stroke-linecap="round" stroke-linejoin="round" />
<path d="M394.5,977.0 L441.9,982.4" fill="none" stroke="#111" stroke-width="1.7" stroke-linecap="round" stroke-linejoin="round"/>
<path d="M398.8,984.5 C406.7,985.2 436.9,986.3 446.0,988.8 C455.1,991.3 452.4,997.8 453.7,999.6" fill="none" stroke="#111" stroke-width="1.7" stroke-linecap="round" stroke-linejoin="round" />
<path d="M400.0,991.0 C408.4,991.9 441.4,994.4 450.5,996.4 C459.6,998.4 453.9,1000.5 454.8,1002.8 C455.7,1005.1 455.7,1009.1 455.9,1010.4" fill="none" stroke="#111" stroke-width="1.7" stroke-linecap="round" stroke-linejoin="round" />
<path d="M406.4,1009.3 L454.8,1011.4" fill="none" stroke="#111" stroke-width="1.7" stroke-linecap="round" stroke-linejoin="round"/>
<path d="M445.0,982.4 C445.4,981.6 445.0,979.0 447.3,977.7 C449.6,976.5 453.4,975.4 459.0,974.9 C464.6,974.4 474.1,974.5 480.6,974.9 C487.1,975.2 493.5,975.8 497.8,977.0 C502.1,978.2 503.9,980.4 506.4,982.4 C508.9,984.4 511.8,987.7 512.9,988.8" fill="none" stroke="#111" stroke-width="1.7" stroke-linecap="round" stroke-linejoin="round" />
<path d="M447.3,984.5 C450.0,983.6 454.6,979.7 463.4,979.2 C472.2,978.7 493.9,980.9 500.0,981.3" fill="none" stroke="#111" stroke-width="1.7" stroke-linecap="round" stroke-linejoin="round" />
<path d="M450.5,991.0 C453.4,990.1 459.1,986.1 467.7,985.6 C476.3,985.1 493.8,986.4 502.0,987.8 C510.2,989.2 514.7,993.1 517.2,994.2" fill="none" stroke="#111" stroke-width="1.7" stroke-linecap="round" stroke-linejoin="round" />
<path d="M454.8,1002.8 C456.1,1001.2 455.5,997.6 463.4,996.4 C471.3,995.1 492.7,994.8 502.0,995.3 C511.3,995.8 515.0,997.8 519.3,999.6 C523.6,1001.4 526.6,1003.9 527.9,1006.0 C529.2,1008.1 528.3,1011.0 526.9,1012.5 C525.5,1014.0 529.9,1014.2 519.3,1014.7 C508.7,1015.2 473.8,1016.1 463.4,1015.7 C453.0,1015.3 458.1,1014.1 456.9,1012.5 C455.6,1010.9 456.2,1007.6 455.9,1006.0 C455.5,1004.4 453.6,1004.4 454.8,1002.8Z" fill="none" stroke="#111" stroke-width="1.7" stroke-linecap="round" stroke-linejoin="round" />
<path d="M508.6,984.5 C509.7,984.1 511.4,982.4 515.0,982.4 C518.6,982.4 526.2,983.2 530.0,984.5 C533.8,985.8 536.3,989.0 537.6,989.9" fill="none" stroke="#111" stroke-width="1.7" stroke-linecap="round" stroke-linejoin="round" />
<path d="M519.3,994.2 C520.0,993.7 520.4,991.7 523.6,991.0 C526.8,990.3 534.0,989.4 538.7,989.9 C543.4,990.4 548.2,992.4 551.6,994.2 C555.0,996.0 558.3,998.9 559.0,1000.7 C559.7,1002.5 558.2,1004.0 555.9,1005.0 C553.6,1006.0 548.9,1006.8 545.0,1007.0 C541.1,1007.2 535.0,1006.7 532.3,1006.0 C529.6,1005.3 529.5,1003.3 529.0,1002.8" fill="none" stroke="#111" stroke-width="1.7" stroke-linecap="round" stroke-linejoin="round" />
<path d="M458.0,1016.0 C458.8,1016.3 452.7,1017.8 463.0,1018.0 C473.3,1018.2 509.2,1018.0 520.0,1017.5 C530.8,1017.0 526.0,1015.9 528.0,1014.7 C530.0,1013.5 530.3,1011.7 532.3,1010.4 C534.3,1009.1 538.5,1007.6 539.8,1007.0" fill="none" stroke="#111" stroke-width="1.7" stroke-linecap="round" stroke-linejoin="round" />
<path d="M544.0,1008.0 L542.0,1014.7 L537.6,1019.0 L532.3,1025.4 L529.0,1029.7 L497.8,1029.7 L493.5,1026.5 L474.0,1026.5 L470.9,1029.7" fill="none" stroke="#111" stroke-width="1.7" stroke-linecap="round" stroke-linejoin="round"/>
<path d="M431.0,1011.4 L407.5,1034.0" fill="none" stroke="#111" stroke-width="1.7" stroke-linecap="round" stroke-linejoin="round"/>
<path d="M470.9,1029.7 L431.0,1068.5 L427.9,1072.7 L411.8,1074.9 L408.5,1077.0" fill="none" stroke="#111" stroke-width="1.7" stroke-linecap="round" stroke-linejoin="round"/>
<path d="M653.8,935.1 C653.2,932.5 650.6,924.3 650.3,919.3 C650.0,914.3 650.4,910.0 652.0,905.3 C653.6,900.6 656.1,895.5 659.9,891.3 C663.7,887.1 669.1,882.8 674.8,879.9 C680.5,877.0 689.1,875.0 694.1,874.1 C699.1,873.2 701.1,873.9 704.6,874.6 C708.1,875.3 711.0,877.4 715.1,878.1 C719.2,878.8 724.4,878.0 729.1,879.0 C733.8,880.0 738.5,882.0 743.2,884.3 C747.9,886.6 752.8,890.2 757.2,893.0 C761.6,895.8 767.5,899.6 769.5,900.9" fill="none" stroke="#111" stroke-width="1.7" stroke-linecap="round" stroke-linejoin="round" />
<path d="M769.5,900.9 L848.3,950.9" fill="none" stroke="#111" stroke-width="1.7" stroke-linecap="round" stroke-linejoin="round"/>
<path d="M653.8,905.3 C655.2,903.2 658.1,896.6 662.5,893.0 C666.9,889.4 674.6,885.1 680.1,883.4 C685.6,881.6 691.1,881.9 695.8,882.5 C700.5,883.1 706.0,886.2 708.1,886.9" fill="none" stroke="#111" stroke-width="1.7" stroke-linecap="round" stroke-linejoin="round" />
<path d="M708.1,886.9 L767.7,922.0 L785.2,933.4 L841.3,972.0" fill="none" stroke="#111" stroke-width="1.7" stroke-linecap="round" stroke-linejoin="round"/>
<path d="M715.1,878.1 L753.7,901.8 L781.7,919.3 L795.7,928.1 L843.1,963.2" fill="none" stroke="#111" stroke-width="1.7" stroke-linecap="round" stroke-linejoin="round"/>
<path d="M753.7,901.8 L766.8,922.0" fill="none" stroke="#111" stroke-width="1.7" stroke-linecap="round" stroke-linejoin="round"/>
<path d="M770.3,900.9 L782.6,918.5" fill="none" stroke="#111" stroke-width="1.7" stroke-linecap="round" stroke-linejoin="round"/>
<path d="M783.5,932.5 C785.5,932.9 791.0,933.2 795.7,935.1 C800.4,937.0 806.0,940.4 811.5,943.9 C817.0,947.4 823.7,952.1 829.0,956.2 C834.3,960.3 840.8,966.4 843.1,968.4" fill="none" stroke="#111" stroke-width="1.7" stroke-linecap="round" stroke-linejoin="round" />
<path d="M795.7,927.2 C797.8,927.7 803.3,928.0 808.0,929.9 C812.7,931.8 818.8,935.1 823.8,938.6 C828.8,942.1 834.0,947.4 837.8,950.9 C841.6,954.4 845.1,958.2 846.6,959.7" fill="none" stroke="#111" stroke-width="1.7" stroke-linecap="round" stroke-linejoin="round" />
<path d="M653.8,935.1 C654.1,933.9 654.2,929.7 655.5,928.1 C656.8,926.5 659.7,925.6 661.7,925.5 C663.8,925.4 666.8,926.9 667.8,927.2" fill="none" stroke="#111" stroke-width="1.7" stroke-linecap="round" stroke-linejoin="round" />
<path d="M667.8,927.2 L788.1,1006.0" fill="none" stroke="#111" stroke-width="1.7" stroke-linecap="round" stroke-linejoin="round"/>
<path d="M653.8,935.1 L774.7,1032.0" fill="none" stroke="#111" stroke-width="1.7" stroke-linecap="round" stroke-linejoin="round"/>
<path d="M788.1,1006.0 L774.7,1032.0" fill="none" stroke="#111" stroke-width="1.7" stroke-linecap="round" stroke-linejoin="round"/>
<path d="M788.1,1006.0 C789.7,1003.3 793.6,994.5 797.5,990.0 C801.4,985.5 806.2,981.3 811.5,978.9 C816.8,976.5 823.8,975.9 829.0,975.4 C834.2,974.9 840.7,975.7 843.0,975.8" fill="none" stroke="#111" stroke-width="1.7" stroke-linecap="round" stroke-linejoin="round" />
<path d="M789.2,1007.0 C791.3,1006.3 795.8,1005.8 801.6,1003.0 C807.4,1000.2 816.6,993.9 823.8,990.0 C831.0,986.1 841.3,981.5 844.8,979.8" fill="none" stroke="#111" stroke-width="1.7" stroke-linecap="round" stroke-linejoin="round" />
<path d="M774.7,1032.0 C774.2,1037.6 771.7,1055.5 772.0,1065.4 C772.3,1075.4 774.9,1085.3 776.7,1091.7 C778.5,1098.1 779.7,1101.2 782.7,1103.6 C785.8,1106.0 791.1,1105.6 795.0,1106.0 C798.9,1106.4 804.2,1106.0 806.0,1106.0" fill="none" stroke="#111" stroke-width="1.7" stroke-linecap="round" stroke-linejoin="round" />
<path d="M797.0,1004.5 C798.8,1003.5 802.0,1001.5 807.8,998.5 C813.6,995.5 824.7,989.8 831.7,986.5 C838.7,983.2 847.0,980.2 850.0,979.0" fill="none" stroke="#111" stroke-width="1.7" stroke-linecap="round" stroke-linejoin="round" />
<path d="M797.0,1004.5 C796.5,1005.9 794.1,1007.8 793.8,1013.0 C793.5,1018.2 794.4,1028.2 795.2,1036.0 C796.0,1043.8 797.3,1050.7 798.8,1060.0 C800.3,1069.3 802.7,1082.4 804.2,1091.7 C805.7,1101.0 807.2,1111.6 807.8,1115.6" fill="none" stroke="#111" stroke-width="1.7" stroke-linecap="round" stroke-linejoin="round" />
<path d="M807.8,1115.6 C809.4,1116.2 805.4,1117.8 817.4,1119.0 C829.4,1120.2 857.2,1121.8 879.5,1122.8 C901.8,1123.8 927.4,1124.8 951.3,1125.0 C975.2,1125.2 1007.3,1124.8 1023.0,1124.0 C1038.7,1123.2 1041.3,1122.2 1045.7,1120.4 C1050.1,1118.6 1048.7,1114.2 1049.3,1113.0" fill="none" stroke="#111" stroke-width="1.7" stroke-linecap="round" stroke-linejoin="round" />
<path d="M975.0,968.6 C983.0,967.5 1013.4,962.8 1023.0,962.0 C1032.6,961.2 1030.1,962.5 1032.5,963.8 C1034.9,965.1 1036.1,966.2 1037.3,970.0 C1038.5,973.8 1038.9,976.6 1039.7,986.5 C1040.5,996.4 1041.0,1014.4 1042.0,1029.5 C1043.0,1044.6 1044.5,1063.4 1045.7,1077.3 C1046.9,1091.2 1048.7,1107.0 1049.3,1113.0" fill="none" stroke="#111" stroke-width="1.7" stroke-linecap="round" stroke-linejoin="round" />
<path d="M1037.3,967.0 C1038.5,969.6 1042.4,976.7 1044.2,982.5 C1046.0,988.3 1047.5,995.5 1048.0,1002.0 C1048.5,1008.5 1047.8,1016.6 1047.0,1021.5 C1046.2,1026.4 1044.1,1029.7 1043.5,1031.3" fill="none" stroke="#111" stroke-width="1.7" stroke-linecap="round" stroke-linejoin="round" />
<path d="M843.7,967.4 C844.3,964.2 844.9,959.9 848.5,955.4 C852.1,950.9 853.3,943.8 865.2,940.5 C877.1,937.2 901.7,937.2 920.0,935.5 C938.3,933.8 964.6,930.4 975.2,930.3 C985.8,930.2 981.7,932.4 983.5,935.0 C985.3,937.6 985.9,942.1 985.9,945.9 C985.9,949.7 986.1,953.8 983.5,957.8 C980.9,961.8 981.8,966.0 970.4,969.8 C959.0,973.6 932.5,977.9 915.4,980.5 C898.3,983.1 878.0,985.1 867.6,985.3 C857.2,985.5 857.0,983.5 853.2,981.7 C849.4,979.9 846.5,976.9 844.9,974.5 C843.3,972.1 843.1,970.6 843.7,967.4Z" fill="#fff" stroke="#111" stroke-width="1.7" stroke-linecap="round" stroke-linejoin="round" />
<path d="M844.9,968.6 C856.6,967.4 892.1,965.2 915.4,961.4 C938.7,957.6 973.2,948.5 984.7,945.9" fill="none" stroke="#111" stroke-width="1.7" stroke-linecap="round" stroke-linejoin="round" />
<path d="M866.4,938.7 C867.8,937.3 868.5,932.9 874.7,930.3 C880.9,927.7 890.6,925.0 903.4,923.0 C916.2,921.0 940.1,918.6 951.3,918.4 C962.5,918.2 965.6,919.8 970.4,922.0 C975.2,924.2 978.4,929.9 980.0,931.5" fill="none" stroke="#111" stroke-width="1.7" stroke-linecap="round" stroke-linejoin="round" />
<path d="M987.0,943.3 L1013.4,942.3" fill="none" stroke="#111" stroke-width="3.2" stroke-linecap="round" stroke-linejoin="round"/>
<path d="M1013.4,942.3 C1014.0,942.7 1015.8,943.3 1017.0,944.7 C1018.2,946.1 1020.0,949.6 1020.6,950.6" fill="none" stroke="#111" stroke-width="1.7" stroke-linecap="round" stroke-linejoin="round" />
<path d="M987.0,948.0 L1017.0,947.0" fill="none" stroke="#111" stroke-width="1.2" stroke-linecap="round" stroke-linejoin="round"/>
<path d="M986.0,961.4 L1017.0,959.2" fill="none" stroke="#111" stroke-width="3" stroke-linecap="round" stroke-linejoin="round"/>
<g transform="translate(933.7,997.8) rotate(-4)"><rect x="-15.3" y="-6.3" width="30.6" height="12.6" rx="5" fill="#fff" stroke="#111" stroke-width="1.5"/><rect x="-11" y="-3.5" width="15" height="7" rx="3" fill="none" stroke="#111" stroke-width="1.3"/><rect x="-7" y="-0.6" width="7" height="1.2" fill="#333"/><rect x="7.3" y="-2.8" width="3.2" height="5.6" fill="#222"/></g>
<path d="M874.7,1021.9 C883.1,1021.0 907.5,1017.8 925.0,1016.5 C942.5,1015.2 970.4,1014.4 979.5,1014.0" fill="none" stroke="#111" stroke-width="1.7" stroke-linecap="round" stroke-linejoin="round" />
<path d="M979.5,1014.0 C980.4,1020.8 983.9,1041.5 985.0,1055.0 C986.1,1068.5 985.8,1088.6 985.9,1095.3" fill="none" stroke="#111" stroke-width="1.7" stroke-linecap="round" stroke-linejoin="round" />
<path d="M985.9,1095.3 C976.6,1096.2 948.1,1099.0 930.0,1100.5 C911.9,1102.0 885.8,1103.4 877.0,1104.0" fill="none" stroke="#111" stroke-width="1.7" stroke-linecap="round" stroke-linejoin="round" />
<path d="M877.0,1104.0 C876.6,1097.0 874.9,1075.7 874.5,1062.0 C874.1,1048.3 874.7,1028.6 874.7,1021.9" fill="none" stroke="#111" stroke-width="1.7" stroke-linecap="round" stroke-linejoin="round" />
<path d="M1037.3,964.0 C1042.8,964.3 1064.0,964.8 1070.5,965.9 C1077.0,967.0 1075.4,970.0 1076.4,970.8" fill="none" stroke="#111" stroke-width="1.7" stroke-linecap="round" stroke-linejoin="round" />
<path d="M1039.3,969.8 L1074.4,971.0" fill="none" stroke="#111" stroke-width="1.7" stroke-linecap="round" stroke-linejoin="round"/>
<path d="M1039.3,972.7 C1045.2,973.4 1066.9,975.0 1074.4,976.6 C1081.9,978.2 1082.6,981.5 1084.2,982.5" fill="none" stroke="#111" stroke-width="1.7" stroke-linecap="round" stroke-linejoin="round" />
<path d="M1041.2,980.5 C1048.0,980.3 1073.7,978.5 1082.2,979.5 C1090.7,980.5 1090.4,985.2 1092.0,986.4" fill="none" stroke="#111" stroke-width="1.7" stroke-linecap="round" stroke-linejoin="round" />
<path d="M1074.4,968.8 C1075.4,968.2 1076.4,966.0 1080.3,965.3 C1084.2,964.6 1091.4,964.2 1097.9,964.5 C1104.4,964.8 1113.8,965.7 1119.3,966.9 C1124.8,968.1 1127.4,970.1 1131.0,971.7 C1134.6,973.3 1139.2,975.8 1140.8,976.6" fill="none" stroke="#111" stroke-width="1.7" stroke-linecap="round" stroke-linejoin="round" />
<path d="M1078.3,972.7 C1079.9,972.1 1081.2,969.1 1088.0,968.8 C1094.8,968.5 1112.1,970.2 1119.3,971.0 C1126.5,971.8 1129.0,973.1 1131.0,973.5" fill="none" stroke="#111" stroke-width="1.7" stroke-linecap="round" stroke-linejoin="round" />
<path d="M1082.2,977.6 C1084.2,977.0 1086.5,974.8 1094.0,974.3 C1101.5,973.8 1118.2,973.8 1127.0,974.7 C1135.8,975.6 1143.4,978.7 1146.7,979.5" fill="none" stroke="#111" stroke-width="1.7" stroke-linecap="round" stroke-linejoin="round" />
<path d="M1092.0,986.4 C1093.6,985.8 1094.3,983.1 1101.8,982.5 C1109.3,981.9 1128.1,982.2 1136.9,982.5 C1145.7,982.8 1151.6,984.1 1154.5,984.4" fill="none" stroke="#111" stroke-width="1.7" stroke-linecap="round" stroke-linejoin="round" />
<path d="M1139.8,976.6 L1150.6,975.6 L1162.3,980.5 L1176,983.5 L1191.6,985.4 L1198.4,989.3 L1198.4,994.2 L1193.5,996 L1174,996 L1168,993.5 L1162,990.5 L1150,984 Z" fill="#dc5737" stroke="#7a3322" stroke-width="1" stroke-linejoin="round"/>
<rect x="1170" y="989.6" width="27.5" height="6" rx="3" fill="#dc5737" stroke="#6a2a1c" stroke-width="1.1"/>
<path d="M1046.0,997.0 L1094.0,997.0 L1096.9,1002.0 L1162.3,1004.0 L1172.0,1000.0" fill="none" stroke="#111" stroke-width="1.7" stroke-linecap="round" stroke-linejoin="round"/>
<path d="M1181.8,998.0 L1181.8,1006.0 L1176.0,1010.8 L1166.2,1017.6 L1135.0,1016.6 L1133.0,1014.7 L1111.5,1014.7" fill="none" stroke="#111" stroke-width="1.7" stroke-linecap="round" stroke-linejoin="round"/>
<path d="M1062.7,998.0 L1049.0,1011.8" fill="none" stroke="#111" stroke-width="1.7" stroke-linecap="round" stroke-linejoin="round"/>
<path d="M1111.5,1014.7 L1074.4,1050.8 L1068.6,1052.8 L1066.6,1058.6 L1060.8,1060.6 L1049.0,1059.6" fill="none" stroke="#111" stroke-width="1.7" stroke-linecap="round" stroke-linejoin="round"/>
<rect x="772.2" y="1117.8" width="11.5" height="4.2" rx="2" fill="#fff" stroke="#111" stroke-width="1.6"/>
<path d="M783.7,1119.9 L806.6,1119.9" fill="none" stroke="#111" stroke-width="2" stroke-linecap="round" stroke-linejoin="round"/>
<path d="M806.6,1118.9 L799.0,1131.3" fill="none" stroke="#111" stroke-width="1.7" stroke-linecap="round" stroke-linejoin="round"/>
<path d="M812.4,1120.8 L803.8,1133.2" fill="none" stroke="#111" stroke-width="1.7" stroke-linecap="round" stroke-linejoin="round"/>
<path d="M812.4,1120.8 C813.3,1120.7 815.1,1119.7 818.0,1119.9 C820.9,1120.1 827.7,1121.5 829.6,1121.8" fill="none" stroke="#111" stroke-width="1.5" stroke-linecap="round" stroke-linejoin="round" />
<path d="M829.6,1121.8 L822.0,1130.4 L816.2,1131.3" fill="none" stroke="#111" stroke-width="1.5" stroke-linecap="round" stroke-linejoin="round"/>
<path d="M816.2,1131.3 C815.5,1131.9 813.3,1134.0 812.0,1135.0 C810.7,1136.0 809.6,1136.8 808.5,1137.0 C807.4,1137.2 806.2,1137.1 805.5,1136.5 C804.8,1135.9 804.5,1134.7 804.5,1133.5 C804.5,1132.3 805.5,1130.1 805.7,1129.4" fill="none" stroke="#111" stroke-width="1.5" stroke-linecap="round" stroke-linejoin="round" />
<rect x="790.4" y="1130.2" width="9.6" height="4.6" rx="2" fill="#fff" stroke="#111" stroke-width="1.6"/>
<path d="M820.0,1131.3 L911.8,1131.3" fill="none" stroke="#111" stroke-width="1.5" stroke-linecap="round" stroke-linejoin="round"/>
<path d="M796.0,1141.9 L935.7,1141.9" fill="none" stroke="#111" stroke-width="1.5" stroke-linecap="round" stroke-linejoin="round"/>
<path d="M781.8,1134.2 L780.8,1148.5 L788.5,1148.5 L788.7,1146.5 L795.2,1145.0 L796.0,1142.8 L825.8,1142.8 L826.7,1145.7 L796.5,1146.0" fill="none" stroke="#111" stroke-width="1.5" stroke-linecap="round" stroke-linejoin="round"/>
<path d="M781.8,1134.2 C782.4,1134.0 783.7,1132.9 785.6,1133.2 C787.5,1133.5 790.3,1135.5 793.2,1136.0 C796.1,1136.5 801.4,1136.2 803.0,1136.3" fill="none" stroke="#111" stroke-width="1.5" stroke-linecap="round" stroke-linejoin="round" />
<path d="M757.0,1143.0 L780.5,1144.0" fill="none" stroke="#111" stroke-width="2.2" stroke-linecap="round" stroke-linejoin="round"/>
<path d="M757.0,1145.6 L780.5,1146.0" fill="none" stroke="#111" stroke-width="1.2" stroke-linecap="round" stroke-linejoin="round"/>
<path d="M755,1144.3 L762,1141.8 L762,1147 Z" fill="#222"/>
<path d="M910.9,1132.3 C911.4,1131.5 911.6,1128.6 913.7,1127.5 C915.8,1126.4 919.1,1125.8 923.3,1125.6 C927.4,1125.3 936.0,1125.9 938.6,1126.0" fill="none" stroke="#111" stroke-width="1.5" stroke-linecap="round" stroke-linejoin="round" />
<path d="M938.6,1126.0 C938.0,1126.9 937.7,1129.6 934.8,1131.3 C931.9,1133.0 924.9,1135.0 921.4,1136.0 C917.9,1137.0 915.4,1137.2 913.7,1137.0 C912.0,1136.8 911.5,1135.8 911.0,1135.0 C910.5,1134.2 910.9,1132.8 910.9,1132.3" fill="none" stroke="#111" stroke-width="1.5" stroke-linecap="round" stroke-linejoin="round" />
<path d="M937.6,1126.5 L937.6,1135.0 L950.0,1135.0" fill="none" stroke="#111" stroke-width="1.5" stroke-linecap="round" stroke-linejoin="round"/>
<path d="M950.0,1125.6 L950.0,1141.9" fill="none" stroke="#111" stroke-width="1.5" stroke-linecap="round" stroke-linejoin="round"/>
<path d="M935.7,1141.9 L935.7,1145.7 L940.5,1145.7 L940.5,1148.5 L950.0,1148.5 L950.0,1145.7 L962.5,1145.7 L964.4,1143.8 L973.0,1143.8 L973.0,1141.9 L964.4,1141.0 L962.5,1141.9 L950.0,1141.9" fill="none" stroke="#111" stroke-width="1.5" stroke-linecap="round" stroke-linejoin="round"/>
<rect x="36" y="717.3" width="1183.5" height="3.4" fill="#8c8c8c"/>
<rect x="613.4" y="719" width="4" height="509" fill="#8c8c8c"/>
<rect x="497.7" y="741" width="84.6" height="38.6" rx="4.5" ry="4.5" fill="#fff" stroke="#111" stroke-width="2"/>
<text x="513.8" y="774" font-size="36" font-weight="bold" fill="#000">T</text><text x="536.5" y="774" font-size="36" font-weight="bold" fill="#000">V</text>
<rect x="1005.5" y="742.5" width="175.5" height="37.5" rx="4.5" ry="4.5" fill="#fff" stroke="#111" stroke-width="2"/>
<text x="1021.9" y="772.3" font-size="35.5" font-weight="bold" fill="#000" textLength="149.8" lengthAdjust="spacing">Reclined</text>
<line x1="158.0" y1="76.0" x2="198.0" y2="147.0" stroke="#df5a3f" stroke-width="3.8"/>
<polygon points="165.5,81.5 179.5,73.4 179.4,80.6 180.4,87.8" fill="#df5a3f"/>
<line x1="176.0" y1="80.8" x2="480.7" y2="61.5" stroke="#df5a3f" stroke-width="4.4"/>
<text x="512.2" y="62.0" font-size="26" font-weight="bold" fill="#df5a3f" textLength="80.6" lengthAdjust="spacing">75.20"</text>
<line x1="622.0" y1="50.8" x2="850.0" y2="35.2" stroke="#df5a3f" stroke-width="4.4"/>
<polygon points="860.5,33.6 846.5,41.7 846.6,34.5 845.6,27.4" fill="#df5a3f"/>
<line x1="844.0" y1="3.0" x2="868.0" y2="50.5" stroke="#df5a3f" stroke-width="3.8"/>
<line x1="867.0" y1="51.0" x2="1123.0" y2="43.3" stroke="#df5a3f" stroke-width="4.2"/>
<line x1="345.0" y1="160.0" x2="254.5" y2="164.9" stroke="#df5a3f" stroke-width="4.3"/>
<polygon points="248.0,165.2 258.1,157.6 257.9,164.7 258.9,171.6" fill="#df5a3f"/>
<text x="347.2" y="169.0" font-size="26" font-weight="bold" fill="#df5a3f" textLength="84.6" lengthAdjust="spacing">26.77"</text>
<line x1="429.7" y1="153.0" x2="492.5" y2="149.4" stroke="#df5a3f" stroke-width="4.3"/>
<polygon points="499.0,149.0 488.9,156.6 489.1,149.6 488.1,142.6" fill="#df5a3f"/>
<line x1="566.0" y1="142.0" x2="507.0" y2="147.1" stroke="#df5a3f" stroke-width="4.3"/>
<polygon points="500.5,147.7 510.4,139.8 510.4,146.8 511.6,153.8" fill="#df5a3f"/>
<text x="565.2" y="148.5" font-size="26" font-weight="bold" fill="#df5a3f" textLength="81.3" lengthAdjust="spacing">22.83"</text>
<line x1="648.0" y1="135.0" x2="687.5" y2="131.6" stroke="#df5a3f" stroke-width="4.3"/>
<polygon points="694.0,131.0 684.1,138.9 684.1,131.9 682.9,124.9" fill="#df5a3f"/>
<line x1="761.0" y1="126.3" x2="702.2" y2="130.7" stroke="#df5a3f" stroke-width="4.3"/>
<polygon points="695.7,131.2 705.6,123.4 705.6,130.5 706.7,137.4" fill="#df5a3f"/>
<text x="765.2" y="131.5" font-size="26" font-weight="bold" fill="#df5a3f" textLength="80.6" lengthAdjust="spacing">26.77"</text>
<line x1="847.7" y1="118.3" x2="884.5" y2="116.3" stroke="#df5a3f" stroke-width="4.3"/>
<polygon points="891.0,116.0 880.9,123.5 881.1,116.5 880.1,109.6" fill="#df5a3f"/>
<line x1="921.0" y1="190.7" x2="895.8" y2="59.9" stroke="#df5a3f" stroke-width="4.3"/>
<polygon points="894.2,51.8 903.1,62.6 896.4,63.3 890.0,65.1" fill="#df5a3f"/>
<text x="916.9" y="228.3" font-size="26" font-weight="bold" fill="#df5a3f" textLength="80.9" lengthAdjust="spacing">26.77"</text>
<line x1="932.0" y1="255.0" x2="941.0" y2="299.4" stroke="#df5a3f" stroke-width="4.3"/>
<polygon points="942.7,307.5 933.7,296.8 940.4,296.0 946.8,294.1" fill="#df5a3f"/>
<line x1="902.7" y1="316.0" x2="961.0" y2="307.0" stroke="#df5a3f" stroke-width="3.8"/>
<line x1="1091.0" y1="213.0" x2="1078.4" y2="55.8" stroke="#df5a3f" stroke-width="4.3"/>
<polygon points="1077.7,47.5 1085.4,59.2 1078.6,59.2 1072.0,60.3" fill="#df5a3f"/>
<text x="1060.2" y="262.7" font-size="26" font-weight="bold" fill="#df5a3f" textLength="80.6" lengthAdjust="spacing">42.12"</text>
<line x1="1096.7" y1="282.7" x2="1112.9" y2="480.2" stroke="#df5a3f" stroke-width="4.3"/>
<polygon points="1113.8,491.0 1105.4,476.8 1112.6,476.8 1119.8,475.7" fill="#df5a3f"/>
<line x1="1063.0" y1="499.0" x2="1141.0" y2="490.0" stroke="#df5a3f" stroke-width="3.8"/>
<line x1="1063.0" y1="499.0" x2="1125.0" y2="559.0" stroke="#df5a3f" stroke-width="3.8"/>
<line x1="842.7" y1="585.7" x2="1086.2" y2="532.7" stroke="#df5a3f" stroke-width="4.3"/>
<polygon points="1096.5,530.5 1083.8,540.5 1082.9,533.5 1080.8,526.6" fill="#df5a3f"/>
<text x="738.9" y="616.3" font-size="26" font-weight="bold" fill="#df5a3f" textLength="80.9" lengthAdjust="spacing">83.46"</text>
<line x1="692.0" y1="619.0" x2="367.0" y2="688.3" stroke="#df5a3f" stroke-width="4.3"/>
<polygon points="356.7,690.5 369.4,680.5 370.3,687.6 372.4,694.4" fill="#df5a3f"/>
<line x1="325.0" y1="654.0" x2="361.7" y2="706.7" stroke="#df5a3f" stroke-width="3.8"/>
<line x1="176.0" y1="675.0" x2="325.0" y2="654.0" stroke="#df5a3f" stroke-width="3.8"/>
<line x1="255.0" y1="611.7" x2="273.3" y2="648.6" stroke="#df5a3f" stroke-width="4.3"/>
<polygon points="278.0,658.0 265.1,648.2 271.8,645.6 278.0,641.8" fill="#df5a3f"/>
<text x="222.2" y="590.7" font-size="26" font-weight="bold" fill="#df5a3f" textLength="44.6" lengthAdjust="spacing">37"</text>
<line x1="228.0" y1="557.0" x2="201.4" y2="504.4" stroke="#df5a3f" stroke-width="4.3"/>
<polygon points="196.7,495.0 209.7,504.7 203.0,507.4 196.8,511.2" fill="#df5a3f"/>
<line x1="141.7" y1="499.0" x2="220.7" y2="489.0" stroke="#df5a3f" stroke-width="3.8"/>
<line x1="191.7" y1="441.7" x2="193.6" y2="482.4" stroke="#df5a3f" stroke-width="4.3"/>
<polygon points="194.0,490.7 186.7,478.7 193.5,479.0 200.1,478.1" fill="#df5a3f"/>
<text x="120.9" y="425.7" font-size="26" font-weight="bold" fill="#df5a3f" textLength="80.9" lengthAdjust="spacing">25.19"</text>
<line x1="188.3" y1="385.0" x2="186.1" y2="328.3" stroke="#df5a3f" stroke-width="4.3"/>
<polygon points="185.8,320.0 193.0,332.0 186.2,331.7 179.6,332.5" fill="#df5a3f"/>
<line x1="148.0" y1="319.5" x2="263.0" y2="313.3" stroke="#df5a3f" stroke-width="3.8"/>
<line x1="358.0" y1="542.0" x2="358.0" y2="492.3" stroke="#df5a3f" stroke-width="4.3"/>
<polygon points="358.0,484.0 364.7,496.3 358.0,495.7 351.3,496.3" fill="#df5a3f"/>
<text x="320.9" y="575.7" font-size="26" font-weight="bold" fill="#df5a3f" textLength="80.9" lengthAdjust="spacing">22.04"</text>
<line x1="358.0" y1="589.0" x2="358.0" y2="637.7" stroke="#df5a3f" stroke-width="4.3"/>
<polygon points="358.0,646.0 351.3,633.7 358.0,634.3 364.7,633.7" fill="#df5a3f"/>
<line x1="478.0" y1="491.3" x2="392.2" y2="505.4" stroke="#df5a3f" stroke-width="4.3"/>
<polygon points="385.8,506.5 395.0,497.9 395.6,504.9 397.3,511.7" fill="#df5a3f"/>
<text x="485.2" y="495.0" font-size="26" font-weight="bold" fill="#df5a3f" textLength="81.3" lengthAdjust="spacing">23.22"</text>
<line x1="574.0" y1="475.5" x2="624.6" y2="466.8" stroke="#df5a3f" stroke-width="4.3"/>
<polygon points="631.0,465.7 621.8,474.4 621.2,467.4 619.5,460.6" fill="#df5a3f"/>
<line x1="634.5" y1="490.7" x2="634.5" y2="435.7" stroke="#df5a3f" stroke-width="4.3"/>
<polygon points="634.5,425.7 641.3,439.7 634.5,439.1 627.7,439.7" fill="#df5a3f"/>
<text x="603.9" y="515.7" font-size="26" font-weight="bold" fill="#df5a3f" textLength="78.9" lengthAdjust="spacing">18.89"</text>
<line x1="634.5" y1="539.0" x2="634.5" y2="587.0" stroke="#df5a3f" stroke-width="4.3"/>
<polygon points="634.5,597.0 627.7,583.0 634.5,583.6 641.3,583.0" fill="#df5a3f"/>
<line x1="705.0" y1="452.0" x2="642.4" y2="462.9" stroke="#df5a3f" stroke-width="4.3"/>
<polygon points="636.0,464.0 645.1,455.3 645.8,462.3 647.5,469.1" fill="#df5a3f"/>
<text x="712.2" y="454.0" font-size="26" font-weight="bold" fill="#df5a3f" textLength="80.6" lengthAdjust="spacing">22.04"</text>
<line x1="794.7" y1="439.0" x2="831.6" y2="432.7" stroke="#df5a3f" stroke-width="4.3"/>
<polygon points="838.0,431.6 828.8,440.3 828.2,433.3 826.5,426.5" fill="#df5a3f"/>
<line x1="840.2" y1="449.0" x2="840.2" y2="400.4" stroke="#df5a3f" stroke-width="4.3"/>
<polygon points="840.2,390.4 847.0,404.4 840.2,403.8 833.4,404.4" fill="#df5a3f"/>
<text x="808.2" y="479.7" font-size="26" font-weight="bold" fill="#df5a3f" textLength="77.6" lengthAdjust="spacing">18.89"</text>
<line x1="840.2" y1="493.0" x2="840.2" y2="540.0" stroke="#df5a3f" stroke-width="4.3"/>
<polygon points="840.2,550.0 833.4,536.0 840.2,536.6 847.0,536.0" fill="#df5a3f"/>
<line x1="904.0" y1="419.5" x2="848.2" y2="428.9" stroke="#df5a3f" stroke-width="4.3"/>
<polygon points="841.8,430.0 851.0,421.3 851.6,428.4 853.3,435.2" fill="#df5a3f"/>
<text x="918.2" y="420.0" font-size="26" font-weight="bold" fill="#df5a3f" textLength="81.3" lengthAdjust="spacing">23.22"</text>
<line x1="999.6" y1="403.0" x2="1036.2" y2="398.2" stroke="#df5a3f" stroke-width="4.3"/>
<polygon points="1042.6,397.4 1033.1,405.7 1032.8,398.7 1031.3,391.8" fill="#df5a3f"/>
<rect x="5.6" y="879" width="2.4" height="305" fill="#0a0a0a"/>
<rect x="87.1" y="874" width="2.4" height="310" fill="#0a0a0a"/>
<text x="10.4" y="1131.0" font-size="26" font-weight="bold" fill="#df5a3f" textLength="78.4" lengthAdjust="spacing">11.02"</text>
<polygon points="8.8,1162.0 21.8,1155.6 21.2,1162.0 21.8,1168.4" fill="#df5a3f"/>
<line x1="17.8" y1="1162.0" x2="77.5" y2="1162.0" stroke="#df5a3f" stroke-width="4.3"/>
<polygon points="86.5,1162.0 73.5,1168.4 74.1,1162.0 73.5,1155.6" fill="#df5a3f"/>
<line x1="253.3" y1="896.0" x2="253.3" y2="950.0" stroke="#df5a3f" stroke-width="3.0"/>
<line x1="373.0" y1="938.0" x2="271.9" y2="914.4" stroke="#df5a3f" stroke-width="4.3"/>
<polygon points="261.7,912.0 277.5,908.3 275.2,915.2 274.2,922.3" fill="#df5a3f"/>
<text x="385.9" y="944.0" font-size="26" font-weight="bold" fill="#df5a3f" textLength="79.9" lengthAdjust="spacing">39.76"</text>
<line x1="450.7" y1="955.7" x2="547.8" y2="977.7" stroke="#df5a3f" stroke-width="4.3"/>
<polygon points="558.0,980.0 542.3,983.8 544.4,976.9 545.4,969.8" fill="#df5a3f"/>
<line x1="561.3" y1="973.0" x2="561.3" y2="1000.0" stroke="#df5a3f" stroke-width="3.0"/>
<line x1="541.0" y1="1002.0" x2="575.0" y2="1002.0" stroke="#df5a3f" stroke-width="3.0"/>
<line x1="559.7" y1="1053.0" x2="559.7" y2="1015.3" stroke="#df5a3f" stroke-width="4.3"/>
<polygon points="559.7,1007.0 566.4,1019.3 559.7,1018.7 553.0,1019.3" fill="#df5a3f"/>
<text x="522.2" y="1092.0" font-size="26" font-weight="bold" fill="#df5a3f" textLength="80.3" lengthAdjust="spacing">17.32"</text>
<line x1="559.7" y1="1111.0" x2="559.7" y2="1142.4" stroke="#df5a3f" stroke-width="4.3"/>
<polygon points="559.7,1150.7 553.0,1138.4 559.7,1139.0 566.4,1138.4" fill="#df5a3f"/>
<line x1="380.0" y1="1152.0" x2="575.7" y2="1152.0" stroke="#df5a3f" stroke-width="3.8"/>
<line x1="648.0" y1="993.0" x2="648.0" y2="901.2" stroke="#df5a3f" stroke-width="4.3"/>
<polygon points="648.0,892.0 654.7,905.2 648.0,904.6 641.3,905.2" fill="#df5a3f"/>
<text x="625.2" y="1047.0" font-size="26" font-weight="bold" fill="#df5a3f" textLength="81.3" lengthAdjust="spacing">33.85"</text>
<line x1="648.0" y1="1073.0" x2="648.0" y2="1170.5" stroke="#df5a3f" stroke-width="4.3"/>
<polygon points="648.0,1179.7 641.3,1166.5 648.0,1167.1 654.7,1166.5" fill="#df5a3f"/>
<line x1="683.0" y1="873.0" x2="728.0" y2="820.7" stroke="#df5a3f" stroke-width="3.3"/>
<path d="M1036.8,855.7 L1085.5,855.7 A48.7,48.7 0 0 0 1006.8,817.4 Z" fill="#f1f1f1"/>
<path d="M1055,855.7 A18.2,18.2 0 0 0 1025.6,841.4" fill="none" stroke="#777" stroke-width="1.3" stroke-dasharray="1.6,3.2"/>
<path d="M1000.5,809.3 L1036.8,855.7 L1100,855.7" fill="none" stroke="#cd5a48" stroke-width="2.1" stroke-linejoin="miter"/>
<text x="1039.4" y="834.4" font-size="13" font-weight="bold" fill="#df5a3f" letter-spacing="0.9">140<tspan font-size="9" dy="-3.4" dx="0.3">&quot;</tspan></text>
<text x="898.2" y="897.0" font-size="26" font-weight="bold" fill="#df5a3f" textLength="81.3" lengthAdjust="spacing">70.47"</text>
<line x1="725.0" y1="849.5" x2="867.7" y2="939.7" stroke="#df5a3f" stroke-width="3.5"/>
<polygon points="716.0,843.0 730.1,844.7 726.3,849.6 723.5,855.1" fill="#df5a3f"/>
<line x1="867.7" y1="939.7" x2="1186.2" y2="968.8" stroke="#df5a3f" stroke-width="3.5"/>
<polygon points="1196.0,969.7 1181.6,975.3 1182.9,968.5 1182.9,961.6" fill="#df5a3f"/>
<line x1="1200.0" y1="939.7" x2="1200.0" y2="991.0" stroke="#df5a3f" stroke-width="3.8"/>
<line x1="1198.5" y1="991.0" x2="1244.0" y2="991.0" stroke="#df5a3f" stroke-width="3.8"/>
<polygon points="1162.3,1003.4 1173.8,997.8 1173.2,1003.4 1173.8,1009.0" fill="#df5a3f"/>
<line x1="1169.8" y1="1003.4" x2="1195.8" y2="1003.4" stroke="#df5a3f" stroke-width="4.3"/>
<polygon points="1203.3,1003.4 1191.8,1009.0 1192.4,1003.4 1191.8,997.8" fill="#df5a3f"/>
<text x="1161.9" y="1037.3" font-size="26" font-weight="bold" fill="#df5a3f" textLength="50.9" lengthAdjust="spacing">2.8"</text>
<line x1="1217.7" y1="1038.0" x2="1217.7" y2="1002.3" stroke="#df5a3f" stroke-width="4.3"/>
<polygon points="1217.7,994.0 1224.4,1006.3 1217.7,1005.7 1211.0,1006.3" fill="#df5a3f"/>
<text x="1173.2" y="1082.3" font-size="26" font-weight="bold" fill="#df5a3f" textLength="81.3" lengthAdjust="spacing">20.86"</text>
<line x1="1216.0" y1="1098.0" x2="1216.0" y2="1138.2" stroke="#df5a3f" stroke-width="4.3"/>
<polygon points="1216.0,1146.5 1209.3,1134.2 1216.0,1134.8 1222.7,1134.2" fill="#df5a3f"/>
<line x1="1187.5" y1="1149.0" x2="1242.7" y2="1149.0" stroke="#df5a3f" stroke-width="3.8"/>
<line x1="1189.0" y1="1149.0" x2="1189.0" y2="1199.7" stroke="#df5a3f" stroke-width="3.8"/>
<line x1="884.0" y1="1188.7" x2="661.5" y2="1188.7" stroke="#df5a3f" stroke-width="4.3"/>
<polygon points="651.0,1188.7 665.5,1181.5 664.9,1188.7 665.5,1195.9" fill="#df5a3f"/>
<text x="885.2" y="1196.3" font-size="26" font-weight="bold" fill="#df5a3f" textLength="80.6" lengthAdjust="spacing">67.71"</text>
<line x1="969.0" y1="1188.7" x2="1175.5" y2="1188.7" stroke="#df5a3f" stroke-width="4.3"/>
<polygon points="1186.0,1188.7 1171.5,1195.9 1172.1,1188.7 1171.5,1181.5" fill="#df5a3f"/>
</svg>
</body></html>
